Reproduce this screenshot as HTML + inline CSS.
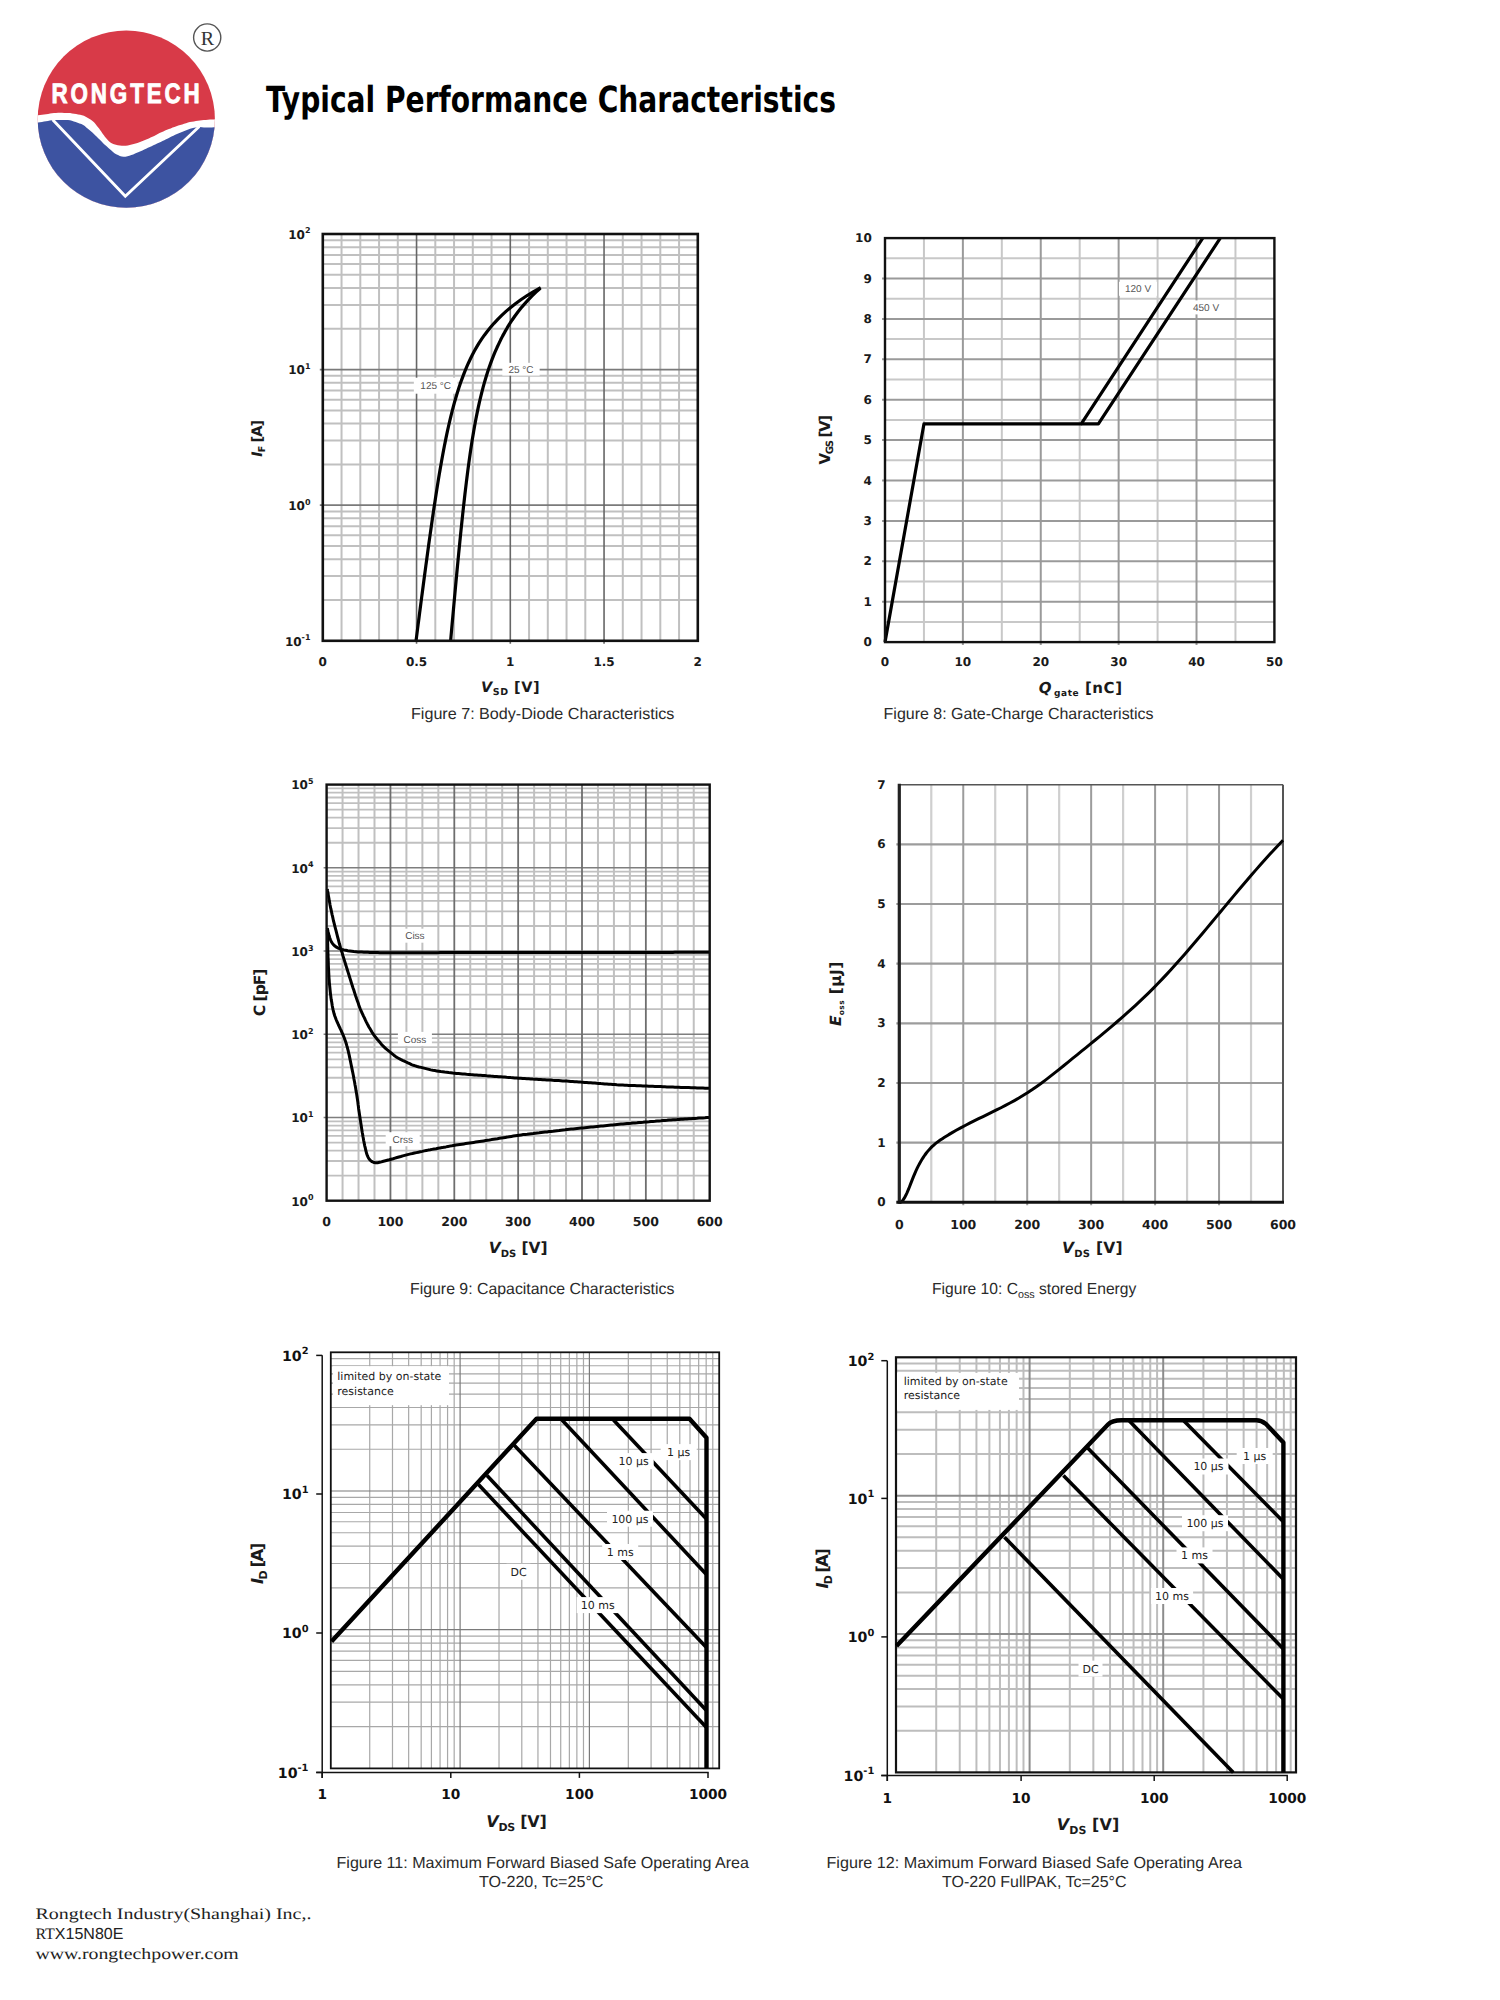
<!DOCTYPE html>
<html><head><meta charset="utf-8"><title>Typical Performance Characteristics</title>
<style>html,body{margin:0;padding:0;background:#fff;}body{width:1500px;height:2000px;position:relative;overflow:hidden;}svg text{text-rendering:geometricPrecision;}</style>
</head><body>
<svg width="1500" height="2000" viewBox="0 0 1500 2000" style="position:absolute;left:0;top:0">
<rect width="1500" height="2000" fill="#fff"/>
<defs><clipPath id="lc"><circle cx="126.3" cy="119.2" r="88.6"/></clipPath></defs>
<g clip-path="url(#lc)">
<rect x="30" y="25" width="200" height="200" fill="#d83a48"/>
<path d="M30.0,115.5 L32.0,115.4 L34.0,115.4 L36.0,115.3 L38.1,115.2 L40.1,115.0 L42.1,114.7 L44.1,114.5 L46.1,114.2 L48.1,113.9 L50.1,113.6 L52.0,113.3 L54.0,113.1 L56.0,112.9 L58.1,112.8 L60.1,112.8 L62.1,112.8 L64.1,112.9 L66.1,112.9 L68.1,113.0 L70.1,113.1 L72.1,113.4 L74.1,113.7 L76.1,114.1 L78.1,114.4 L80.1,114.8 L82.0,115.2 L83.9,115.8 L85.7,116.7 L87.5,117.7 L89.2,118.7 L90.9,119.7 L92.5,120.9 L94.0,122.3 L95.3,123.8 L96.6,125.4 L97.8,126.9 L99.1,128.5 L100.3,130.2 L101.4,131.8 L102.5,133.5 L103.7,135.1 L104.9,136.8 L106.2,138.3 L107.5,139.8 L108.9,141.3 L110.4,142.5 L112.1,143.5 L114.0,144.2 L115.9,144.8 L117.8,145.3 L119.8,145.5 L121.8,145.7 L123.8,145.8 L125.8,145.8 L127.8,145.5 L129.8,145.0 L131.7,144.6 L133.7,144.1 L135.6,143.5 L137.5,142.9 L139.4,142.2 L141.3,141.5 L143.2,140.7 L145.0,140.0 L146.9,139.2 L148.8,138.5 L150.6,137.6 L152.4,136.8 L154.2,135.9 L156.0,135.0 L157.8,134.0 L159.6,133.1 L161.4,132.2 L163.3,131.4 L165.1,130.6 L167.0,129.8 L168.9,129.1 L170.7,128.4 L172.6,127.6 L174.5,126.9 L176.4,126.2 L178.3,125.5 L180.2,124.9 L182.2,124.4 L184.1,123.8 L186.0,123.2 L188.0,122.6 L189.9,122.1 L191.9,121.7 L193.9,121.4 L195.9,121.1 L197.9,120.8 L199.9,120.5 L201.8,120.2 L203.8,120.0 L205.9,119.9 L207.9,119.7 L209.9,119.6 L211.9,119.5 L213.9,119.4 L215.9,119.3 L217.9,119.3 L220.0,119.2 L222.0,119.2 L224.0,119.2 L225.0,119.2 L225,230 L30,230 Z" fill="#fff"/>
<path d="M30.0,123.0 L32.0,122.9 L34.0,122.8 L36.0,122.7 L38.0,122.6 L40.0,122.3 L42.0,122.0 L44.0,121.6 L46.0,121.2 L47.9,120.9 L49.9,120.5 L51.9,120.2 L53.9,120.1 L55.9,120.0 L57.9,120.0 L60.0,120.0 L62.0,120.0 L64.0,120.0 L66.0,120.0 L68.0,120.1 L70.0,120.3 L71.9,120.7 L73.8,121.4 L75.7,122.0 L77.6,122.7 L79.5,123.4 L81.4,124.1 L83.2,125.0 L84.8,126.1 L86.3,127.4 L87.9,128.7 L89.4,130.0 L90.9,131.3 L92.4,132.6 L93.9,134.0 L95.4,135.4 L96.8,136.8 L98.2,138.2 L99.6,139.6 L101.1,141.1 L102.5,142.5 L103.9,143.9 L105.4,145.3 L106.9,146.6 L108.4,147.9 L109.9,149.3 L111.4,150.6 L113.0,151.9 L114.5,153.2 L116.2,154.2 L118.0,155.1 L119.8,155.9 L121.7,156.5 L123.6,156.8 L125.5,156.7 L127.5,156.2 L129.4,155.7 L131.4,155.1 L133.2,154.4 L135.1,153.6 L136.9,152.8 L138.8,152.0 L140.6,151.2 L142.4,150.4 L144.3,149.5 L146.1,148.7 L147.9,147.8 L149.8,147.0 L151.6,146.2 L153.4,145.3 L155.2,144.5 L157.1,143.6 L158.9,142.8 L160.7,141.9 L162.5,141.0 L164.3,140.2 L166.1,139.3 L167.9,138.4 L169.7,137.5 L171.5,136.6 L173.4,135.7 L175.2,134.8 L177.0,133.9 L178.8,133.2 L180.7,132.4 L182.6,131.7 L184.4,130.9 L186.3,130.2 L188.2,129.5 L190.1,128.8 L192.0,128.3 L194.0,127.8 L196.0,127.4 L197.9,127.1 L199.9,127.0 L201.9,127.2 L203.9,127.4 L205.9,127.4 L207.9,127.4 L209.9,127.4 L211.9,127.4 L213.9,127.3 L215.9,127.3 L218.0,127.3 L220.0,127.3 L222.0,127.3 L224.0,127.3 L225.0,127.3 L225,230 L30,230 Z" fill="#3d53a1"/>
<path d="M52.7,119.8 L125.3,196.2 L199.3,126.5" stroke="#fff" stroke-width="2.9" fill="none" stroke-linejoin="miter"/>
</g>
<text transform="translate(51.4,103) scale(0.8,1)" x="0" y="0" font-size="28" font-weight="bold" fill="#fff" stroke="#fff" stroke-width="0.9" font-family="'Liberation Sans', Arial, sans-serif" textLength="185.5" lengthAdjust="spacing">RONGTECH</text>
<circle cx="207.2" cy="37.5" r="13.6" fill="none" stroke="#555" stroke-width="1.4"/>
<text x="207.4" y="44.6" font-size="20" fill="#333" text-anchor="middle" font-family="'Liberation Serif', 'Times New Roman', serif">R</text>
<text x="266" y="112.4" font-size="36" font-weight="bold" fill="#000" font-family="'DejaVu Sans', Verdana, sans-serif" textLength="570" lengthAdjust="spacingAndGlyphs">Typical Performance Characteristics</text>
<line x1="322.80" y1="599.98" x2="697.80" y2="599.98" stroke="#c0c0c0" stroke-width="2"/>
<line x1="322.80" y1="576.10" x2="697.80" y2="576.10" stroke="#c0c0c0" stroke-width="2"/>
<line x1="322.80" y1="559.16" x2="697.80" y2="559.16" stroke="#c0c0c0" stroke-width="2"/>
<line x1="322.80" y1="546.02" x2="697.80" y2="546.02" stroke="#c0c0c0" stroke-width="2"/>
<line x1="322.80" y1="535.28" x2="697.80" y2="535.28" stroke="#c0c0c0" stroke-width="2"/>
<line x1="322.80" y1="526.20" x2="697.80" y2="526.20" stroke="#c0c0c0" stroke-width="2"/>
<line x1="322.80" y1="518.34" x2="697.80" y2="518.34" stroke="#c0c0c0" stroke-width="2"/>
<line x1="322.80" y1="511.40" x2="697.80" y2="511.40" stroke="#c0c0c0" stroke-width="2"/>
<line x1="322.80" y1="464.38" x2="697.80" y2="464.38" stroke="#c0c0c0" stroke-width="2"/>
<line x1="322.80" y1="440.50" x2="697.80" y2="440.50" stroke="#c0c0c0" stroke-width="2"/>
<line x1="322.80" y1="423.56" x2="697.80" y2="423.56" stroke="#c0c0c0" stroke-width="2"/>
<line x1="322.80" y1="410.42" x2="697.80" y2="410.42" stroke="#c0c0c0" stroke-width="2"/>
<line x1="322.80" y1="399.68" x2="697.80" y2="399.68" stroke="#c0c0c0" stroke-width="2"/>
<line x1="322.80" y1="390.60" x2="697.80" y2="390.60" stroke="#c0c0c0" stroke-width="2"/>
<line x1="322.80" y1="382.74" x2="697.80" y2="382.74" stroke="#c0c0c0" stroke-width="2"/>
<line x1="322.80" y1="375.80" x2="697.80" y2="375.80" stroke="#c0c0c0" stroke-width="2"/>
<line x1="322.80" y1="328.78" x2="697.80" y2="328.78" stroke="#c0c0c0" stroke-width="2"/>
<line x1="322.80" y1="304.90" x2="697.80" y2="304.90" stroke="#c0c0c0" stroke-width="2"/>
<line x1="322.80" y1="287.96" x2="697.80" y2="287.96" stroke="#c0c0c0" stroke-width="2"/>
<line x1="322.80" y1="274.82" x2="697.80" y2="274.82" stroke="#c0c0c0" stroke-width="2"/>
<line x1="322.80" y1="264.08" x2="697.80" y2="264.08" stroke="#c0c0c0" stroke-width="2"/>
<line x1="322.80" y1="255.00" x2="697.80" y2="255.00" stroke="#c0c0c0" stroke-width="2"/>
<line x1="322.80" y1="247.14" x2="697.80" y2="247.14" stroke="#c0c0c0" stroke-width="2"/>
<line x1="322.80" y1="240.20" x2="697.80" y2="240.20" stroke="#c0c0c0" stroke-width="2"/>
<line x1="341.55" y1="234.00" x2="341.55" y2="640.80" stroke="#c0c0c0" stroke-width="2"/>
<line x1="360.30" y1="234.00" x2="360.30" y2="640.80" stroke="#c0c0c0" stroke-width="2"/>
<line x1="379.05" y1="234.00" x2="379.05" y2="640.80" stroke="#c0c0c0" stroke-width="2"/>
<line x1="397.80" y1="234.00" x2="397.80" y2="640.80" stroke="#c0c0c0" stroke-width="2"/>
<line x1="435.30" y1="234.00" x2="435.30" y2="640.80" stroke="#c0c0c0" stroke-width="2"/>
<line x1="454.05" y1="234.00" x2="454.05" y2="640.80" stroke="#c0c0c0" stroke-width="2"/>
<line x1="472.80" y1="234.00" x2="472.80" y2="640.80" stroke="#c0c0c0" stroke-width="2"/>
<line x1="491.55" y1="234.00" x2="491.55" y2="640.80" stroke="#c0c0c0" stroke-width="2"/>
<line x1="529.05" y1="234.00" x2="529.05" y2="640.80" stroke="#c0c0c0" stroke-width="2"/>
<line x1="547.80" y1="234.00" x2="547.80" y2="640.80" stroke="#c0c0c0" stroke-width="2"/>
<line x1="566.55" y1="234.00" x2="566.55" y2="640.80" stroke="#c0c0c0" stroke-width="2"/>
<line x1="585.30" y1="234.00" x2="585.30" y2="640.80" stroke="#c0c0c0" stroke-width="2"/>
<line x1="622.80" y1="234.00" x2="622.80" y2="640.80" stroke="#c0c0c0" stroke-width="2"/>
<line x1="641.55" y1="234.00" x2="641.55" y2="640.80" stroke="#c0c0c0" stroke-width="2"/>
<line x1="660.30" y1="234.00" x2="660.30" y2="640.80" stroke="#c0c0c0" stroke-width="2"/>
<line x1="679.05" y1="234.00" x2="679.05" y2="640.80" stroke="#c0c0c0" stroke-width="2"/>
<line x1="319.80" y1="505.20" x2="697.80" y2="505.20" stroke="#7a7a7a" stroke-width="1.8"/>
<line x1="319.80" y1="369.60" x2="697.80" y2="369.60" stroke="#7a7a7a" stroke-width="1.8"/>
<line x1="416.55" y1="234.00" x2="416.55" y2="643.80" stroke="#666" stroke-width="1.6"/>
<line x1="510.30" y1="234.00" x2="510.30" y2="643.80" stroke="#666" stroke-width="1.6"/>
<line x1="604.05" y1="234.00" x2="604.05" y2="643.80" stroke="#666" stroke-width="1.6"/>
<rect x="413.85" y="377.70" width="43.70" height="16.00" fill="#fff"/>
<text x="435.70" y="389.30" font-size="10" fill="#555" font-weight="normal" text-anchor="middle" font-family="'Liberation Sans', Arial, sans-serif">125 °C</text>
<rect x="502.35" y="362.80" width="37.30" height="12.80" fill="#fff"/>
<text x="521.00" y="372.80" font-size="10" fill="#555" font-weight="normal" text-anchor="middle" font-family="'Liberation Sans', Arial, sans-serif">25 °C</text>
<path d="M416.04,640.80 L416.55,636.83 L417.06,632.86 L417.57,628.89 L418.08,624.92 L418.60,620.96 L419.11,616.99 L419.62,613.02 L420.14,609.05 L420.66,605.08 L421.17,601.11 L421.69,597.14 L422.21,593.17 L422.73,589.20 L423.26,585.23 L423.78,581.27 L424.31,577.30 L424.84,573.33 L425.37,569.36 L425.90,565.39 L426.44,561.42 L426.97,557.45 L427.52,553.48 L428.06,549.51 L428.60,545.54 L429.15,541.58 L429.71,537.61 L430.27,533.64 L430.83,529.67 L431.39,525.70 L431.96,521.73 L432.54,517.76 L433.12,513.79 L433.70,509.82 L434.30,505.86 L434.90,501.89 L435.50,497.92 L436.12,493.95 L436.74,489.98 L437.37,486.01 L438.01,482.04 L438.66,478.07 L439.32,474.10 L440.00,470.13 L440.68,466.17 L441.38,462.20 L442.09,458.23 L442.82,454.26 L443.57,450.29 L444.33,446.32 L445.12,442.35 L445.92,438.38 L446.75,434.41 L447.60,430.44 L448.47,426.48 L449.38,422.51 L450.31,418.54 L451.28,414.57 L452.29,410.60 L453.33,406.63 L454.41,402.66 L455.54,398.69 L456.72,394.72 L457.95,390.76 L459.23,386.79 L460.58,382.82 L462.00,378.85 L463.49,374.88 L465.06,370.91 L466.71,366.94 L468.46,362.97 L470.32,359.00 L472.28,355.03 L474.37,351.07 L476.60,347.10 L478.97,343.13 L481.58,339.16 L484.38,335.19 L487.37,331.23 L490.57,327.26 L494.01,323.30 L497.71,319.33 L501.69,315.36 L506.00,311.40 L510.66,307.43 L515.71,303.46 L521.18,299.50 L527.14,295.53 L533.63,291.56 L540.72,287.60" stroke="#000" stroke-width="3.2" fill="none" stroke-linejoin="round"/>
<path d="M450.62,640.80 L450.98,636.84 L451.33,632.88 L451.69,628.92 L452.04,624.96 L452.40,621.00 L452.76,617.04 L453.12,613.08 L453.48,609.12 L453.84,605.16 L454.20,601.20 L454.56,597.24 L454.93,593.28 L455.29,589.32 L455.66,585.36 L456.03,581.40 L456.40,577.44 L456.77,573.48 L457.15,569.52 L457.53,565.56 L457.91,561.60 L458.29,557.64 L458.67,553.68 L459.06,549.72 L459.45,545.76 L459.84,541.80 L460.24,537.84 L460.64,533.88 L461.05,529.92 L461.46,525.97 L461.87,522.01 L462.29,518.05 L462.71,514.09 L463.14,510.13 L463.58,506.17 L464.02,502.21 L464.47,498.25 L464.92,494.29 L465.38,490.33 L465.86,486.37 L466.34,482.41 L466.83,478.45 L467.33,474.49 L467.84,470.53 L468.36,466.57 L468.89,462.61 L469.44,458.65 L470.00,454.69 L470.58,450.73 L471.18,446.77 L471.79,442.81 L472.42,438.85 L473.07,434.89 L473.74,430.93 L474.44,426.97 L475.16,423.01 L475.91,419.05 L476.68,415.09 L477.49,411.13 L478.32,407.17 L479.20,403.21 L480.11,399.25 L481.06,395.29 L482.05,391.33 L483.09,387.37 L484.18,383.41 L485.32,379.45 L486.52,375.49 L487.79,371.53 L489.11,367.57 L490.51,363.61 L491.98,359.65 L493.54,355.69 L495.18,351.73 L496.91,347.77 L498.75,343.81 L500.66,339.84 L502.69,335.87 L504.85,331.90 L507.14,327.93 L509.57,323.96 L512.17,319.98 L514.93,316.01 L517.88,312.04 L521.03,308.07 L524.39,304.10 L527.98,300.13 L531.82,296.15 L535.93,292.18 L540.33,288.21" stroke="#000" stroke-width="3.2" fill="none" stroke-linejoin="round"/>
<rect x="322.80" y="234.00" width="375.00" height="406.80" fill="none" stroke="#111" stroke-width="2.6"/>
<text x="322.80" y="665.67" font-size="12" fill="#1a1a1a" font-weight="bold" text-anchor="middle" font-family="'DejaVu Sans', Verdana, sans-serif">0</text>
<text x="416.55" y="665.67" font-size="12" fill="#1a1a1a" font-weight="bold" text-anchor="middle" font-family="'DejaVu Sans', Verdana, sans-serif">0.5</text>
<text x="510.30" y="665.67" font-size="12" fill="#1a1a1a" font-weight="bold" text-anchor="middle" font-family="'DejaVu Sans', Verdana, sans-serif">1</text>
<text x="604.05" y="665.67" font-size="12" fill="#1a1a1a" font-weight="bold" text-anchor="middle" font-family="'DejaVu Sans', Verdana, sans-serif">1.5</text>
<text x="697.80" y="665.67" font-size="12" fill="#1a1a1a" font-weight="bold" text-anchor="middle" font-family="'DejaVu Sans', Verdana, sans-serif">2</text>
<text x="310.50" y="238.87" font-size="12" font-weight="bold" fill="#1a1a1a" text-anchor="end" font-family="'DejaVu Sans', Verdana, sans-serif">10<tspan dy="-5.40" font-size="8">2</tspan></text>
<text x="310.50" y="374.47" font-size="12" font-weight="bold" fill="#1a1a1a" text-anchor="end" font-family="'DejaVu Sans', Verdana, sans-serif">10<tspan dy="-5.40" font-size="8">1</tspan></text>
<text x="310.50" y="510.07" font-size="12" font-weight="bold" fill="#1a1a1a" text-anchor="end" font-family="'DejaVu Sans', Verdana, sans-serif">10<tspan dy="-5.40" font-size="8">0</tspan></text>
<text x="310.50" y="645.67" font-size="12" font-weight="bold" fill="#1a1a1a" text-anchor="end" font-family="'DejaVu Sans', Verdana, sans-serif">10<tspan dy="-5.40" font-size="8">-1</tspan></text>
<text x="481.10" y="691.50" font-size="14.5" font-weight="bold" fill="#1a1a1a" font-family="'DejaVu Sans', Verdana, sans-serif" textLength="58.5" lengthAdjust="spacing"><tspan font-style="italic">V</tspan><tspan dy="3.5" font-size="9.5">SD</tspan><tspan dy="-3.5"> [V]</tspan></text>
<text transform="translate(261.50,456.80) rotate(-90)" x="0" y="0" font-size="14.5" font-weight="bold" fill="#1a1a1a" font-family="'DejaVu Sans', Verdana, sans-serif" textLength="36.9" lengthAdjust="spacing"><tspan font-style="italic">I</tspan><tspan dy="3.5" font-size="9.5">F</tspan><tspan dy="-3.5"> [A]</tspan></text>
<line x1="885.00" y1="621.90" x2="1274.40" y2="621.90" stroke="#c8c8c8" stroke-width="2"/>
<line x1="885.00" y1="581.50" x2="1274.40" y2="581.50" stroke="#c8c8c8" stroke-width="2"/>
<line x1="885.00" y1="541.10" x2="1274.40" y2="541.10" stroke="#c8c8c8" stroke-width="2"/>
<line x1="885.00" y1="500.70" x2="1274.40" y2="500.70" stroke="#c8c8c8" stroke-width="2"/>
<line x1="885.00" y1="460.30" x2="1274.40" y2="460.30" stroke="#c8c8c8" stroke-width="2"/>
<line x1="885.00" y1="419.90" x2="1274.40" y2="419.90" stroke="#c8c8c8" stroke-width="2"/>
<line x1="885.00" y1="379.50" x2="1274.40" y2="379.50" stroke="#c8c8c8" stroke-width="2"/>
<line x1="885.00" y1="339.10" x2="1274.40" y2="339.10" stroke="#c8c8c8" stroke-width="2"/>
<line x1="885.00" y1="298.70" x2="1274.40" y2="298.70" stroke="#c8c8c8" stroke-width="2"/>
<line x1="885.00" y1="258.30" x2="1274.40" y2="258.30" stroke="#c8c8c8" stroke-width="2"/>
<line x1="923.94" y1="238.10" x2="923.94" y2="642.10" stroke="#c8c8c8" stroke-width="2"/>
<line x1="1001.82" y1="238.10" x2="1001.82" y2="642.10" stroke="#c8c8c8" stroke-width="2"/>
<line x1="1079.70" y1="238.10" x2="1079.70" y2="642.10" stroke="#c8c8c8" stroke-width="2"/>
<line x1="1157.58" y1="238.10" x2="1157.58" y2="642.10" stroke="#c8c8c8" stroke-width="2"/>
<line x1="1235.46" y1="238.10" x2="1235.46" y2="642.10" stroke="#c8c8c8" stroke-width="2"/>
<line x1="882.00" y1="601.70" x2="1274.40" y2="601.70" stroke="#9a9a9a" stroke-width="2"/>
<line x1="882.00" y1="561.30" x2="1274.40" y2="561.30" stroke="#9a9a9a" stroke-width="2"/>
<line x1="882.00" y1="520.90" x2="1274.40" y2="520.90" stroke="#9a9a9a" stroke-width="2"/>
<line x1="882.00" y1="480.50" x2="1274.40" y2="480.50" stroke="#9a9a9a" stroke-width="2"/>
<line x1="882.00" y1="440.10" x2="1274.40" y2="440.10" stroke="#9a9a9a" stroke-width="2"/>
<line x1="882.00" y1="399.70" x2="1274.40" y2="399.70" stroke="#9a9a9a" stroke-width="2"/>
<line x1="882.00" y1="359.30" x2="1274.40" y2="359.30" stroke="#9a9a9a" stroke-width="2"/>
<line x1="882.00" y1="318.90" x2="1274.40" y2="318.90" stroke="#9a9a9a" stroke-width="2"/>
<line x1="882.00" y1="278.50" x2="1274.40" y2="278.50" stroke="#9a9a9a" stroke-width="2"/>
<line x1="962.88" y1="238.10" x2="962.88" y2="645.10" stroke="#9a9a9a" stroke-width="2"/>
<line x1="1040.76" y1="238.10" x2="1040.76" y2="645.10" stroke="#9a9a9a" stroke-width="2"/>
<line x1="1118.64" y1="238.10" x2="1118.64" y2="645.10" stroke="#9a9a9a" stroke-width="2"/>
<line x1="1196.52" y1="238.10" x2="1196.52" y2="645.10" stroke="#9a9a9a" stroke-width="2"/>
<rect x="1119.00" y="281.80" width="38.00" height="14.00" fill="#fff"/>
<text x="1138.00" y="292.40" font-size="10" fill="#555" font-weight="normal" text-anchor="middle" font-family="'Liberation Sans', Arial, sans-serif">120 V</text>
<rect x="1186.00" y="300.40" width="40.00" height="14.00" fill="#fff"/>
<text x="1206.00" y="311.00" font-size="10" fill="#555" font-weight="normal" text-anchor="middle" font-family="'Liberation Sans', Arial, sans-serif">450 V</text>
<path d="M885.00,642.10 L923.94,423.94 L1081.26,423.94 L1202.75,238.10" stroke="#000" stroke-width="3.2" fill="none" stroke-linejoin="round"/>
<path d="M1081.26,423.94 L1098.39,423.94 L1220.27,238.10" stroke="#000" stroke-width="3.2" fill="none" stroke-linejoin="round"/>
<rect x="885.00" y="238.10" width="389.40" height="404.00" fill="none" stroke="#111" stroke-width="2.4"/>
<text x="885.00" y="666.27" font-size="12" fill="#1a1a1a" font-weight="bold" text-anchor="middle" font-family="'DejaVu Sans', Verdana, sans-serif">0</text>
<text x="962.88" y="666.27" font-size="12" fill="#1a1a1a" font-weight="bold" text-anchor="middle" font-family="'DejaVu Sans', Verdana, sans-serif">10</text>
<text x="1040.76" y="666.27" font-size="12" fill="#1a1a1a" font-weight="bold" text-anchor="middle" font-family="'DejaVu Sans', Verdana, sans-serif">20</text>
<text x="1118.64" y="666.27" font-size="12" fill="#1a1a1a" font-weight="bold" text-anchor="middle" font-family="'DejaVu Sans', Verdana, sans-serif">30</text>
<text x="1196.52" y="666.27" font-size="12" fill="#1a1a1a" font-weight="bold" text-anchor="middle" font-family="'DejaVu Sans', Verdana, sans-serif">40</text>
<text x="1274.40" y="666.27" font-size="12" fill="#1a1a1a" font-weight="bold" text-anchor="middle" font-family="'DejaVu Sans', Verdana, sans-serif">50</text>
<text x="871.80" y="646.17" font-size="12" fill="#1a1a1a" font-weight="bold" text-anchor="end" font-family="'DejaVu Sans', Verdana, sans-serif">0</text>
<text x="871.80" y="605.77" font-size="12" fill="#1a1a1a" font-weight="bold" text-anchor="end" font-family="'DejaVu Sans', Verdana, sans-serif">1</text>
<text x="871.80" y="565.37" font-size="12" fill="#1a1a1a" font-weight="bold" text-anchor="end" font-family="'DejaVu Sans', Verdana, sans-serif">2</text>
<text x="871.80" y="524.97" font-size="12" fill="#1a1a1a" font-weight="bold" text-anchor="end" font-family="'DejaVu Sans', Verdana, sans-serif">3</text>
<text x="871.80" y="484.57" font-size="12" fill="#1a1a1a" font-weight="bold" text-anchor="end" font-family="'DejaVu Sans', Verdana, sans-serif">4</text>
<text x="871.80" y="444.17" font-size="12" fill="#1a1a1a" font-weight="bold" text-anchor="end" font-family="'DejaVu Sans', Verdana, sans-serif">5</text>
<text x="871.80" y="403.77" font-size="12" fill="#1a1a1a" font-weight="bold" text-anchor="end" font-family="'DejaVu Sans', Verdana, sans-serif">6</text>
<text x="871.80" y="363.37" font-size="12" fill="#1a1a1a" font-weight="bold" text-anchor="end" font-family="'DejaVu Sans', Verdana, sans-serif">7</text>
<text x="871.80" y="322.97" font-size="12" fill="#1a1a1a" font-weight="bold" text-anchor="end" font-family="'DejaVu Sans', Verdana, sans-serif">8</text>
<text x="871.80" y="282.57" font-size="12" fill="#1a1a1a" font-weight="bold" text-anchor="end" font-family="'DejaVu Sans', Verdana, sans-serif">9</text>
<text x="871.80" y="242.17" font-size="12" fill="#1a1a1a" font-weight="bold" text-anchor="end" font-family="'DejaVu Sans', Verdana, sans-serif">10</text>
<text x="1038.7" y="693.3" font-size="15" font-weight="bold" fill="#1a1a1a" font-family="'DejaVu Sans', Verdana, sans-serif" textLength="83.3" lengthAdjust="spacing"><tspan font-style="italic">Q</tspan><tspan dx="2" dy="3" font-size="9">gate</tspan><tspan dy="-3"> [nC]</tspan></text>
<text transform="translate(829.50,464.40) rotate(-90)" x="0" y="0" font-size="15" font-weight="bold" fill="#1a1a1a" font-family="'DejaVu Sans', Verdana, sans-serif" textLength="49.6" lengthAdjust="spacing"><tspan>V</tspan><tspan dy="3.5" font-size="10">GS</tspan><tspan dy="-3.5"> [V]</tspan></text>
<line x1="326.60" y1="1175.65" x2="709.70" y2="1175.65" stroke="#c0c0c0" stroke-width="1.8"/>
<line x1="326.60" y1="1160.99" x2="709.70" y2="1160.99" stroke="#c0c0c0" stroke-width="1.8"/>
<line x1="326.60" y1="1150.60" x2="709.70" y2="1150.60" stroke="#c0c0c0" stroke-width="1.8"/>
<line x1="326.60" y1="1142.53" x2="709.70" y2="1142.53" stroke="#c0c0c0" stroke-width="1.8"/>
<line x1="326.60" y1="1135.94" x2="709.70" y2="1135.94" stroke="#c0c0c0" stroke-width="1.8"/>
<line x1="326.60" y1="1130.37" x2="709.70" y2="1130.37" stroke="#c0c0c0" stroke-width="1.8"/>
<line x1="326.60" y1="1125.54" x2="709.70" y2="1125.54" stroke="#c0c0c0" stroke-width="1.8"/>
<line x1="326.60" y1="1121.29" x2="709.70" y2="1121.29" stroke="#c0c0c0" stroke-width="1.8"/>
<line x1="326.60" y1="1092.43" x2="709.70" y2="1092.43" stroke="#c0c0c0" stroke-width="1.8"/>
<line x1="326.60" y1="1077.77" x2="709.70" y2="1077.77" stroke="#c0c0c0" stroke-width="1.8"/>
<line x1="326.60" y1="1067.38" x2="709.70" y2="1067.38" stroke="#c0c0c0" stroke-width="1.8"/>
<line x1="326.60" y1="1059.31" x2="709.70" y2="1059.31" stroke="#c0c0c0" stroke-width="1.8"/>
<line x1="326.60" y1="1052.72" x2="709.70" y2="1052.72" stroke="#c0c0c0" stroke-width="1.8"/>
<line x1="326.60" y1="1047.15" x2="709.70" y2="1047.15" stroke="#c0c0c0" stroke-width="1.8"/>
<line x1="326.60" y1="1042.32" x2="709.70" y2="1042.32" stroke="#c0c0c0" stroke-width="1.8"/>
<line x1="326.60" y1="1038.07" x2="709.70" y2="1038.07" stroke="#c0c0c0" stroke-width="1.8"/>
<line x1="326.60" y1="1009.21" x2="709.70" y2="1009.21" stroke="#c0c0c0" stroke-width="1.8"/>
<line x1="326.60" y1="994.55" x2="709.70" y2="994.55" stroke="#c0c0c0" stroke-width="1.8"/>
<line x1="326.60" y1="984.16" x2="709.70" y2="984.16" stroke="#c0c0c0" stroke-width="1.8"/>
<line x1="326.60" y1="976.09" x2="709.70" y2="976.09" stroke="#c0c0c0" stroke-width="1.8"/>
<line x1="326.60" y1="969.50" x2="709.70" y2="969.50" stroke="#c0c0c0" stroke-width="1.8"/>
<line x1="326.60" y1="963.93" x2="709.70" y2="963.93" stroke="#c0c0c0" stroke-width="1.8"/>
<line x1="326.60" y1="959.10" x2="709.70" y2="959.10" stroke="#c0c0c0" stroke-width="1.8"/>
<line x1="326.60" y1="954.85" x2="709.70" y2="954.85" stroke="#c0c0c0" stroke-width="1.8"/>
<line x1="326.60" y1="925.99" x2="709.70" y2="925.99" stroke="#c0c0c0" stroke-width="1.8"/>
<line x1="326.60" y1="911.33" x2="709.70" y2="911.33" stroke="#c0c0c0" stroke-width="1.8"/>
<line x1="326.60" y1="900.94" x2="709.70" y2="900.94" stroke="#c0c0c0" stroke-width="1.8"/>
<line x1="326.60" y1="892.87" x2="709.70" y2="892.87" stroke="#c0c0c0" stroke-width="1.8"/>
<line x1="326.60" y1="886.28" x2="709.70" y2="886.28" stroke="#c0c0c0" stroke-width="1.8"/>
<line x1="326.60" y1="880.71" x2="709.70" y2="880.71" stroke="#c0c0c0" stroke-width="1.8"/>
<line x1="326.60" y1="875.88" x2="709.70" y2="875.88" stroke="#c0c0c0" stroke-width="1.8"/>
<line x1="326.60" y1="871.63" x2="709.70" y2="871.63" stroke="#c0c0c0" stroke-width="1.8"/>
<line x1="326.60" y1="842.77" x2="709.70" y2="842.77" stroke="#c0c0c0" stroke-width="1.8"/>
<line x1="326.60" y1="828.11" x2="709.70" y2="828.11" stroke="#c0c0c0" stroke-width="1.8"/>
<line x1="326.60" y1="817.72" x2="709.70" y2="817.72" stroke="#c0c0c0" stroke-width="1.8"/>
<line x1="326.60" y1="809.65" x2="709.70" y2="809.65" stroke="#c0c0c0" stroke-width="1.8"/>
<line x1="326.60" y1="803.06" x2="709.70" y2="803.06" stroke="#c0c0c0" stroke-width="1.8"/>
<line x1="326.60" y1="797.49" x2="709.70" y2="797.49" stroke="#c0c0c0" stroke-width="1.8"/>
<line x1="326.60" y1="792.66" x2="709.70" y2="792.66" stroke="#c0c0c0" stroke-width="1.8"/>
<line x1="326.60" y1="788.41" x2="709.70" y2="788.41" stroke="#c0c0c0" stroke-width="1.8"/>
<line x1="342.56" y1="784.60" x2="342.56" y2="1200.70" stroke="#c0c0c0" stroke-width="2"/>
<line x1="358.53" y1="784.60" x2="358.53" y2="1200.70" stroke="#c0c0c0" stroke-width="2"/>
<line x1="374.49" y1="784.60" x2="374.49" y2="1200.70" stroke="#c0c0c0" stroke-width="2"/>
<line x1="406.41" y1="784.60" x2="406.41" y2="1200.70" stroke="#c0c0c0" stroke-width="2"/>
<line x1="422.38" y1="784.60" x2="422.38" y2="1200.70" stroke="#c0c0c0" stroke-width="2"/>
<line x1="438.34" y1="784.60" x2="438.34" y2="1200.70" stroke="#c0c0c0" stroke-width="2"/>
<line x1="470.26" y1="784.60" x2="470.26" y2="1200.70" stroke="#c0c0c0" stroke-width="2"/>
<line x1="486.23" y1="784.60" x2="486.23" y2="1200.70" stroke="#c0c0c0" stroke-width="2"/>
<line x1="502.19" y1="784.60" x2="502.19" y2="1200.70" stroke="#c0c0c0" stroke-width="2"/>
<line x1="534.11" y1="784.60" x2="534.11" y2="1200.70" stroke="#c0c0c0" stroke-width="2"/>
<line x1="550.08" y1="784.60" x2="550.08" y2="1200.70" stroke="#c0c0c0" stroke-width="2"/>
<line x1="566.04" y1="784.60" x2="566.04" y2="1200.70" stroke="#c0c0c0" stroke-width="2"/>
<line x1="597.96" y1="784.60" x2="597.96" y2="1200.70" stroke="#c0c0c0" stroke-width="2"/>
<line x1="613.93" y1="784.60" x2="613.93" y2="1200.70" stroke="#c0c0c0" stroke-width="2"/>
<line x1="629.89" y1="784.60" x2="629.89" y2="1200.70" stroke="#c0c0c0" stroke-width="2"/>
<line x1="661.81" y1="784.60" x2="661.81" y2="1200.70" stroke="#c0c0c0" stroke-width="2"/>
<line x1="677.78" y1="784.60" x2="677.78" y2="1200.70" stroke="#c0c0c0" stroke-width="2"/>
<line x1="693.74" y1="784.60" x2="693.74" y2="1200.70" stroke="#c0c0c0" stroke-width="2"/>
<line x1="323.60" y1="1117.48" x2="709.70" y2="1117.48" stroke="#7e7e7e" stroke-width="1.6"/>
<line x1="323.60" y1="1034.26" x2="709.70" y2="1034.26" stroke="#7e7e7e" stroke-width="1.6"/>
<line x1="323.60" y1="951.04" x2="709.70" y2="951.04" stroke="#7e7e7e" stroke-width="1.6"/>
<line x1="323.60" y1="867.82" x2="709.70" y2="867.82" stroke="#7e7e7e" stroke-width="1.6"/>
<line x1="390.45" y1="784.60" x2="390.45" y2="1200.70" stroke="#6e6e6e" stroke-width="1.8"/>
<line x1="454.30" y1="784.60" x2="454.30" y2="1200.70" stroke="#6e6e6e" stroke-width="1.8"/>
<line x1="518.15" y1="784.60" x2="518.15" y2="1200.70" stroke="#6e6e6e" stroke-width="1.8"/>
<line x1="582.00" y1="784.60" x2="582.00" y2="1200.70" stroke="#6e6e6e" stroke-width="1.8"/>
<line x1="645.85" y1="784.60" x2="645.85" y2="1200.70" stroke="#6e6e6e" stroke-width="1.8"/>
<rect x="399.90" y="928.70" width="30.00" height="14.00" fill="#fff"/>
<text x="414.90" y="939.30" font-size="10" fill="#555" font-weight="normal" text-anchor="middle" font-family="'Liberation Sans', Arial, sans-serif">Ciss</text>
<rect x="397.90" y="1031.90" width="34.00" height="14.00" fill="#fff"/>
<text x="414.90" y="1042.50" font-size="10" fill="#555" font-weight="normal" text-anchor="middle" font-family="'Liberation Sans', Arial, sans-serif">Coss</text>
<rect x="385.70" y="1132.20" width="34.00" height="14.00" fill="#fff"/>
<text x="402.70" y="1142.80" font-size="10" fill="#555" font-weight="normal" text-anchor="middle" font-family="'Liberation Sans', Arial, sans-serif">Crss</text>
<path d="M327.3,889.0 L327.6,891.0 L328.0,893.0 L328.3,894.9 L328.6,896.9 L329.0,898.9 L329.3,900.9 L329.7,902.8 L330.0,904.8 L330.4,906.8 L330.8,908.7 L331.3,910.7 L331.7,912.7 L332.1,914.6 L332.6,916.6 L333.0,918.5 L333.4,920.5 L333.9,922.4 L334.4,924.4 L334.9,926.3 L335.4,928.3 L335.9,930.2 L336.4,932.2 L336.9,934.1 L337.4,936.1 L337.9,938.0 L338.4,939.9 L338.9,941.9 L339.4,943.8 L340.0,945.8 L340.5,947.7 L341.1,949.6 L341.7,951.5 L342.3,953.4 L342.8,955.4 L343.4,957.3 L344.0,959.2 L344.6,961.1 L345.2,963.0 L345.8,965.0 L346.4,966.9 L347.0,968.8 L347.6,970.7 L348.2,972.6 L348.8,974.5 L349.4,976.5 L350.0,978.4 L350.6,980.3 L351.2,982.2 L351.8,984.1 L352.4,986.0 L353.0,987.9 L353.7,989.8 L354.3,991.7 L354.9,993.6 L355.5,995.5 L356.2,997.4 L356.8,999.3 L357.5,1001.2 L358.2,1003.1 L358.8,1005.0 L359.5,1006.9 L360.2,1008.8 L361.0,1010.6 L361.8,1012.5 L362.7,1014.3 L363.5,1016.1 L364.4,1017.9 L365.2,1019.7 L366.1,1021.6 L367.0,1023.3 L367.9,1025.1 L368.9,1026.9 L369.9,1028.6 L370.9,1030.3 L371.9,1032.1 L373.0,1033.7 L374.1,1035.4 L375.4,1037.0 L376.6,1038.5 L377.9,1040.1 L379.2,1041.6 L380.5,1043.1 L381.8,1044.7 L383.2,1046.1 L384.6,1047.5 L386.1,1048.8 L387.7,1050.1 L389.2,1051.4 L390.8,1052.6 L392.3,1053.9 L393.9,1055.2 L395.5,1056.4 L397.1,1057.5 L398.9,1058.5 L400.6,1059.4 L402.5,1060.3 L404.3,1061.1 L406.1,1062.0 L407.9,1062.9 L409.7,1063.7 L411.5,1064.6 L413.4,1065.3 L415.3,1065.9 L417.2,1066.5 L419.1,1067.0 L421.1,1067.4 L423.0,1067.9 L425.0,1068.4 L426.9,1068.9 L428.9,1069.4 L430.8,1069.9 L432.8,1070.3 L434.8,1070.6 L436.7,1070.9 L438.7,1071.2 L440.7,1071.5 L442.7,1071.7 L444.7,1072.0 L446.7,1072.2 L448.7,1072.5 L450.7,1072.7 L452.7,1073.0 L454.6,1073.2 L456.6,1073.4 L458.6,1073.6 L460.6,1073.8 L462.6,1074.0 L464.6,1074.1 L466.6,1074.3 L468.6,1074.4 L470.6,1074.6 L472.6,1074.7 L474.6,1074.9 L476.6,1075.0 L478.6,1075.2 L480.6,1075.3 L482.6,1075.5 L484.6,1075.6 L486.6,1075.8 L488.6,1075.9 L490.6,1076.1 L492.6,1076.2 L494.7,1076.4 L496.7,1076.5 L498.7,1076.7 L500.7,1076.8 L502.7,1077.0 L504.7,1077.1 L506.7,1077.3 L508.7,1077.4 L510.7,1077.6 L512.7,1077.7 L514.7,1077.9 L516.7,1078.0 L518.7,1078.2 L520.7,1078.3 L522.7,1078.5 L524.7,1078.6 L526.7,1078.7 L528.7,1078.8 L530.7,1078.9 L532.7,1079.1 L534.7,1079.2 L536.7,1079.3 L538.7,1079.4 L540.7,1079.5 L542.7,1079.7 L544.7,1079.8 L546.7,1079.9 L548.7,1080.0 L550.7,1080.1 L552.7,1080.3 L554.7,1080.4 L556.7,1080.5 L558.7,1080.6 L560.7,1080.7 L562.7,1080.9 L564.7,1081.0 L566.7,1081.1 L568.7,1081.2 L570.7,1081.4 L572.7,1081.5 L574.7,1081.7 L576.7,1081.8 L578.7,1081.9 L580.7,1082.1 L582.7,1082.2 L584.7,1082.4 L586.7,1082.5 L588.7,1082.7 L590.8,1082.8 L592.8,1083.0 L594.8,1083.1 L596.8,1083.3 L598.8,1083.4 L600.8,1083.6 L602.8,1083.7 L604.8,1083.9 L606.8,1084.0 L608.8,1084.2 L610.8,1084.3 L612.8,1084.5 L614.8,1084.6 L616.8,1084.8 L618.8,1084.9 L620.8,1085.0 L622.8,1085.1 L624.8,1085.2 L626.8,1085.3 L628.8,1085.4 L630.8,1085.4 L632.8,1085.5 L634.8,1085.6 L636.8,1085.7 L638.8,1085.8 L640.8,1085.8 L642.8,1085.9 L644.8,1086.0 L646.8,1086.1 L648.8,1086.2 L650.8,1086.2 L652.8,1086.3 L654.9,1086.4 L656.9,1086.5 L658.9,1086.6 L660.9,1086.6 L662.9,1086.7 L664.9,1086.8 L666.9,1086.9 L668.9,1087.0 L670.9,1087.0 L672.9,1087.1 L674.9,1087.2 L676.9,1087.2 L678.9,1087.3 L680.9,1087.4 L682.9,1087.4 L684.9,1087.5 L686.9,1087.6 L688.9,1087.6 L691.0,1087.7 L693.0,1087.8 L695.0,1087.8 L697.0,1087.9 L699.0,1088.0 L701.0,1088.0 L703.0,1088.1 L705.0,1088.2 L707.0,1088.2 L709.0,1088.3" stroke="#000" stroke-width="3.0" fill="none" stroke-linejoin="round"/>
<path d="M327.3,928.0 L327.7,930.0 L328.1,931.9 L328.6,933.9 L329.1,935.8 L329.7,937.7 L330.4,939.6 L331.2,941.4 L332.2,943.1 L333.4,944.7 L334.9,946.0 L336.5,947.2 L338.2,948.1 L340.1,948.8 L342.0,949.4 L343.9,949.9 L345.9,950.3 L347.8,950.7 L349.8,951.0 L351.8,951.3 L353.8,951.6 L355.8,951.8 L357.8,952.0 L359.8,952.1 L361.8,952.1 L363.8,952.2 L365.8,952.3 L367.8,952.3 L369.8,952.4 L371.8,952.5 L373.8,952.5 L375.8,952.6 L377.8,952.6 L379.9,952.7 L381.9,952.7 L383.9,952.7 L385.9,952.7 L387.9,952.7 L389.9,952.7 L391.9,952.7 L393.9,952.7 L395.9,952.7 L397.9,952.7 L399.9,952.7 L401.9,952.7 L403.9,952.7 L405.9,952.7 L408.0,952.7 L410.0,952.7 L412.0,952.7 L414.0,952.7 L416.0,952.7 L418.0,952.7 L420.0,952.7 L422.0,952.7 L424.0,952.7 L426.0,952.7 L428.0,952.7 L430.0,952.7 L432.0,952.7 L434.0,952.7 L436.0,952.7 L438.1,952.7 L440.1,952.6 L442.1,952.6 L444.1,952.6 L446.1,952.6 L448.1,952.6 L450.1,952.6 L452.1,952.6 L454.1,952.6 L456.1,952.6 L458.1,952.6 L460.1,952.6 L462.1,952.6 L464.1,952.6 L466.2,952.6 L468.2,952.6 L470.2,952.6 L472.2,952.6 L474.2,952.6 L476.2,952.6 L478.2,952.6 L480.2,952.6 L482.2,952.6 L484.2,952.6 L486.2,952.6 L488.2,952.6 L490.2,952.6 L492.2,952.6 L494.3,952.6 L496.3,952.6 L498.3,952.6 L500.3,952.6 L502.3,952.6 L504.3,952.6 L506.3,952.6 L508.3,952.6 L510.3,952.6 L512.3,952.6 L514.3,952.6 L516.3,952.6 L518.3,952.6 L520.3,952.6 L522.3,952.6 L524.4,952.6 L526.4,952.6 L528.4,952.6 L530.4,952.6 L532.4,952.6 L534.4,952.6 L536.4,952.5 L538.4,952.5 L540.4,952.5 L542.4,952.5 L544.4,952.5 L546.4,952.5 L548.4,952.5 L550.4,952.5 L552.5,952.5 L554.5,952.5 L556.5,952.5 L558.5,952.5 L560.5,952.5 L562.5,952.5 L564.5,952.5 L566.5,952.5 L568.5,952.5 L570.5,952.5 L572.5,952.5 L574.5,952.5 L576.5,952.5 L578.5,952.5 L580.6,952.5 L582.6,952.5 L584.6,952.5 L586.6,952.5 L588.6,952.5 L590.6,952.5 L592.6,952.5 L594.6,952.5 L596.6,952.5 L598.6,952.5 L600.6,952.5 L602.6,952.5 L604.6,952.4 L606.6,952.4 L608.7,952.4 L610.7,952.4 L612.7,952.4 L614.7,952.4 L616.7,952.4 L618.7,952.4 L620.7,952.4 L622.7,952.4 L624.7,952.4 L626.7,952.4 L628.7,952.4 L630.7,952.4 L632.7,952.4 L634.7,952.4 L636.7,952.4 L638.8,952.4 L640.8,952.4 L642.8,952.4 L644.8,952.4 L646.8,952.4 L648.8,952.4 L650.8,952.4 L652.8,952.4 L654.8,952.4 L656.8,952.4 L658.8,952.4 L660.8,952.4 L662.8,952.4 L664.8,952.4 L666.9,952.4 L668.9,952.4 L670.9,952.4 L672.9,952.4 L674.9,952.3 L676.9,952.3 L678.9,952.3 L680.9,952.3 L682.9,952.3 L684.9,952.3 L686.9,952.3 L688.9,952.3 L690.9,952.3 L692.9,952.3 L695.0,952.3 L697.0,952.3 L699.0,952.3 L701.0,952.3 L703.0,952.3 L705.0,952.3 L707.0,952.3 L709.0,952.3" stroke="#000" stroke-width="3.0" fill="none" stroke-linejoin="round"/>
<path d="M327.3,930.0 L327.4,932.0 L327.4,934.0 L327.5,936.0 L327.5,938.0 L327.6,940.0 L327.6,942.0 L327.7,944.0 L327.7,946.0 L327.8,948.1 L327.8,950.1 L327.9,952.1 L328.0,954.1 L328.0,956.1 L328.1,958.1 L328.2,960.1 L328.3,962.1 L328.3,964.1 L328.4,966.1 L328.5,968.1 L328.6,970.1 L328.7,972.1 L328.8,974.1 L328.9,976.1 L329.0,978.1 L329.2,980.1 L329.3,982.1 L329.5,984.1 L329.7,986.1 L329.9,988.1 L330.1,990.1 L330.3,992.1 L330.5,994.1 L330.8,996.1 L331.0,998.1 L331.3,1000.1 L331.7,1002.0 L332.0,1004.0 L332.3,1006.0 L332.7,1008.0 L333.1,1009.9 L333.6,1011.9 L334.1,1013.8 L334.7,1015.7 L335.4,1017.6 L336.1,1019.5 L336.9,1021.3 L337.7,1023.1 L338.5,1025.0 L339.4,1026.8 L340.2,1028.6 L341.1,1030.4 L341.9,1032.3 L342.7,1034.1 L343.5,1036.0 L344.2,1037.8 L344.9,1039.7 L345.6,1041.6 L346.2,1043.5 L346.7,1045.4 L347.3,1047.3 L347.8,1049.3 L348.3,1051.2 L348.7,1053.2 L349.2,1055.1 L349.6,1057.1 L350.0,1059.1 L350.4,1061.0 L350.8,1063.0 L351.2,1065.0 L351.6,1066.9 L352.0,1068.9 L352.4,1070.9 L352.8,1072.8 L353.2,1074.8 L353.6,1076.8 L353.9,1078.7 L354.3,1080.7 L354.7,1082.7 L355.0,1084.7 L355.4,1086.6 L355.7,1088.6 L356.0,1090.6 L356.4,1092.6 L356.7,1094.6 L357.0,1096.5 L357.3,1098.5 L357.6,1100.5 L357.9,1102.5 L358.1,1104.5 L358.4,1106.5 L358.6,1108.5 L358.9,1110.4 L359.2,1112.4 L359.5,1114.4 L359.8,1116.4 L360.1,1118.4 L360.4,1120.4 L360.7,1122.4 L361.0,1124.3 L361.3,1126.3 L361.6,1128.3 L361.9,1130.3 L362.2,1132.3 L362.6,1134.2 L362.9,1136.2 L363.3,1138.2 L363.6,1140.2 L364.0,1142.1 L364.4,1144.1 L364.8,1146.1 L365.3,1148.0 L365.7,1150.0 L366.2,1151.9 L366.7,1153.8 L367.4,1155.7 L368.2,1157.5 L369.3,1159.2 L370.6,1160.6 L372.1,1161.7 L373.8,1162.5 L375.7,1162.8 L377.6,1162.7 L379.6,1162.3 L381.5,1161.9 L383.4,1161.3 L385.4,1160.8 L387.3,1160.3 L389.3,1159.8 L391.2,1159.2 L393.1,1158.7 L395.0,1158.1 L397.0,1157.5 L398.9,1157.0 L400.8,1156.5 L402.8,1155.9 L404.7,1155.4 L406.6,1154.9 L408.6,1154.4 L410.5,1153.9 L412.5,1153.5 L414.4,1153.0 L416.4,1152.6 L418.4,1152.2 L420.3,1151.8 L422.3,1151.4 L424.3,1150.9 L426.2,1150.5 L428.2,1150.1 L430.2,1149.8 L432.1,1149.4 L434.1,1149.0 L436.1,1148.7 L438.1,1148.3 L440.0,1147.9 L442.0,1147.6 L444.0,1147.2 L445.9,1146.9 L447.9,1146.5 L449.9,1146.1 L451.9,1145.8 L453.8,1145.4 L455.8,1145.1 L457.8,1144.8 L459.8,1144.5 L461.8,1144.2 L463.8,1143.9 L465.7,1143.6 L467.7,1143.3 L469.7,1143.0 L471.7,1142.7 L473.7,1142.4 L475.7,1142.1 L477.7,1141.8 L479.6,1141.5 L481.6,1141.2 L483.6,1140.9 L485.6,1140.6 L487.6,1140.3 L489.5,1140.0 L491.5,1139.6 L493.5,1139.3 L495.5,1139.0 L497.5,1138.7 L499.4,1138.3 L501.4,1138.0 L503.4,1137.7 L505.4,1137.4 L507.4,1137.1 L509.3,1136.7 L511.3,1136.4 L513.3,1136.1 L515.3,1135.8 L517.3,1135.5 L519.2,1135.2 L521.2,1134.9 L523.2,1134.6 L525.2,1134.4 L527.2,1134.2 L529.2,1133.9 L531.2,1133.7 L533.2,1133.5 L535.2,1133.2 L537.2,1133.0 L539.2,1132.8 L541.2,1132.5 L543.2,1132.3 L545.1,1132.1 L547.1,1131.9 L549.1,1131.6 L551.1,1131.4 L553.1,1131.2 L555.1,1130.9 L557.1,1130.7 L559.1,1130.5 L561.1,1130.2 L563.1,1130.0 L565.1,1129.8 L567.1,1129.5 L569.1,1129.3 L571.1,1129.1 L573.1,1128.9 L575.1,1128.7 L577.0,1128.5 L579.0,1128.3 L581.0,1128.1 L583.0,1127.9 L585.0,1127.7 L587.0,1127.5 L589.0,1127.3 L591.0,1127.1 L593.0,1126.9 L595.0,1126.7 L597.0,1126.5 L599.0,1126.3 L601.0,1126.1 L603.0,1125.9 L605.0,1125.7 L607.0,1125.5 L609.0,1125.3 L611.0,1125.1 L613.0,1124.9 L615.0,1124.7 L617.0,1124.5 L619.0,1124.3 L621.0,1124.1 L623.0,1124.0 L625.0,1123.8 L627.0,1123.6 L629.0,1123.4 L631.0,1123.3 L633.0,1123.1 L635.0,1122.9 L637.0,1122.8 L639.0,1122.6 L641.0,1122.4 L643.0,1122.3 L645.0,1122.1 L647.0,1121.9 L649.0,1121.8 L651.0,1121.6 L653.0,1121.4 L655.0,1121.3 L657.0,1121.1 L659.0,1120.9 L661.0,1120.8 L663.0,1120.6 L665.0,1120.4 L667.0,1120.3 L669.0,1120.1 L671.0,1120.0 L673.0,1119.8 L675.0,1119.7 L677.0,1119.6 L679.0,1119.4 L681.0,1119.3 L683.0,1119.2 L685.0,1119.0 L687.0,1118.9 L689.0,1118.8 L691.0,1118.7 L693.0,1118.5 L695.0,1118.4 L697.0,1118.3 L699.0,1118.1 L701.0,1118.0 L703.0,1117.9 L705.0,1117.8 L707.0,1117.6 L709.0,1117.5" stroke="#000" stroke-width="3.0" fill="none" stroke-linejoin="round"/>
<rect x="326.60" y="784.60" width="383.10" height="416.10" fill="none" stroke="#111" stroke-width="2.4"/>
<text x="326.60" y="1225.86" font-size="12.5" fill="#1a1a1a" font-weight="bold" text-anchor="middle" font-family="'DejaVu Sans', Verdana, sans-serif">0</text>
<text x="390.45" y="1225.86" font-size="12.5" fill="#1a1a1a" font-weight="bold" text-anchor="middle" font-family="'DejaVu Sans', Verdana, sans-serif">100</text>
<text x="454.30" y="1225.86" font-size="12.5" fill="#1a1a1a" font-weight="bold" text-anchor="middle" font-family="'DejaVu Sans', Verdana, sans-serif">200</text>
<text x="518.15" y="1225.86" font-size="12.5" fill="#1a1a1a" font-weight="bold" text-anchor="middle" font-family="'DejaVu Sans', Verdana, sans-serif">300</text>
<text x="582.00" y="1225.86" font-size="12.5" fill="#1a1a1a" font-weight="bold" text-anchor="middle" font-family="'DejaVu Sans', Verdana, sans-serif">400</text>
<text x="645.85" y="1225.86" font-size="12.5" fill="#1a1a1a" font-weight="bold" text-anchor="middle" font-family="'DejaVu Sans', Verdana, sans-serif">500</text>
<text x="709.70" y="1225.86" font-size="12.5" fill="#1a1a1a" font-weight="bold" text-anchor="middle" font-family="'DejaVu Sans', Verdana, sans-serif">600</text>
<text x="313.50" y="1205.57" font-size="12" font-weight="bold" fill="#1a1a1a" text-anchor="end" font-family="'DejaVu Sans', Verdana, sans-serif">10<tspan dy="-5.40" font-size="8">0</tspan></text>
<text x="313.50" y="1122.35" font-size="12" font-weight="bold" fill="#1a1a1a" text-anchor="end" font-family="'DejaVu Sans', Verdana, sans-serif">10<tspan dy="-5.40" font-size="8">1</tspan></text>
<text x="313.50" y="1039.13" font-size="12" font-weight="bold" fill="#1a1a1a" text-anchor="end" font-family="'DejaVu Sans', Verdana, sans-serif">10<tspan dy="-5.40" font-size="8">2</tspan></text>
<text x="313.50" y="955.91" font-size="12" font-weight="bold" fill="#1a1a1a" text-anchor="end" font-family="'DejaVu Sans', Verdana, sans-serif">10<tspan dy="-5.40" font-size="8">3</tspan></text>
<text x="313.50" y="872.69" font-size="12" font-weight="bold" fill="#1a1a1a" text-anchor="end" font-family="'DejaVu Sans', Verdana, sans-serif">10<tspan dy="-5.40" font-size="8">4</tspan></text>
<text x="313.50" y="789.47" font-size="12" font-weight="bold" fill="#1a1a1a" text-anchor="end" font-family="'DejaVu Sans', Verdana, sans-serif">10<tspan dy="-5.40" font-size="8">5</tspan></text>
<text x="488.70" y="1252.70" font-size="15.5" font-weight="bold" fill="#1a1a1a" font-family="'DejaVu Sans', Verdana, sans-serif" textLength="59.0" lengthAdjust="spacing"><tspan font-style="italic">V</tspan><tspan dy="3.8" font-size="10">DS</tspan><tspan dy="-3.8"> [V]</tspan></text>
<text transform="translate(265.00,1016.20) rotate(-90)" x="0" y="0" font-size="15.5" font-weight="bold" fill="#1a1a1a" font-family="'DejaVu Sans', Verdana, sans-serif" textLength="47.6" lengthAdjust="spacing"><tspan>C</tspan><tspan dy="0" font-size="10"></tspan><tspan dy="0"> [pF]</tspan></text>
<line x1="931.27" y1="784.70" x2="931.27" y2="1202.30" stroke="#cfcfcf" stroke-width="2.2"/>
<line x1="995.22" y1="784.70" x2="995.22" y2="1202.30" stroke="#cfcfcf" stroke-width="2.2"/>
<line x1="1059.17" y1="784.70" x2="1059.17" y2="1202.30" stroke="#cfcfcf" stroke-width="2.2"/>
<line x1="1123.12" y1="784.70" x2="1123.12" y2="1202.30" stroke="#cfcfcf" stroke-width="2.2"/>
<line x1="1187.08" y1="784.70" x2="1187.08" y2="1202.30" stroke="#cfcfcf" stroke-width="2.2"/>
<line x1="1251.03" y1="784.70" x2="1251.03" y2="1202.30" stroke="#cfcfcf" stroke-width="2.2"/>
<line x1="963.25" y1="784.70" x2="963.25" y2="1205.30" stroke="#9c9c9c" stroke-width="2.0"/>
<line x1="1027.20" y1="784.70" x2="1027.20" y2="1205.30" stroke="#9c9c9c" stroke-width="2.0"/>
<line x1="1091.15" y1="784.70" x2="1091.15" y2="1205.30" stroke="#9c9c9c" stroke-width="2.0"/>
<line x1="1155.10" y1="784.70" x2="1155.10" y2="1205.30" stroke="#9c9c9c" stroke-width="2.0"/>
<line x1="1219.05" y1="784.70" x2="1219.05" y2="1205.30" stroke="#9c9c9c" stroke-width="2.0"/>
<line x1="896.30" y1="1142.64" x2="1283.00" y2="1142.64" stroke="#9c9c9c" stroke-width="2.2"/>
<line x1="896.30" y1="1082.99" x2="1283.00" y2="1082.99" stroke="#9c9c9c" stroke-width="2.2"/>
<line x1="896.30" y1="1023.33" x2="1283.00" y2="1023.33" stroke="#9c9c9c" stroke-width="2.2"/>
<line x1="896.30" y1="963.67" x2="1283.00" y2="963.67" stroke="#9c9c9c" stroke-width="2.2"/>
<line x1="896.30" y1="904.01" x2="1283.00" y2="904.01" stroke="#9c9c9c" stroke-width="2.2"/>
<line x1="896.30" y1="844.36" x2="1283.00" y2="844.36" stroke="#9c9c9c" stroke-width="2.2"/>
<line x1="899.30" y1="784.70" x2="1283.00" y2="784.70" stroke="#555" stroke-width="1.6"/>
<line x1="1283.00" y1="784.70" x2="1283.00" y2="1202.30" stroke="#555" stroke-width="2.0"/>
<path d="M899.30,1202.30 L900.58,1202.15 L901.86,1201.32 L903.14,1199.89 L904.42,1197.95 L905.69,1195.58 L906.97,1192.85 L908.25,1189.87 L909.53,1186.70 L910.81,1183.42 L912.09,1180.13 L913.37,1176.90 L914.65,1173.81 L915.93,1170.90 L917.21,1168.16 L918.48,1165.59 L919.76,1163.18 L921.04,1160.93 L922.32,1158.81 L923.60,1156.84 L924.88,1154.99 L926.16,1153.26 L927.44,1151.65 L928.72,1150.14 L930.00,1148.73 L931.27,1147.41 L932.55,1146.18 L933.83,1145.02 L935.11,1143.93 L936.39,1142.90 L937.67,1141.92 L938.95,1140.99 L940.23,1140.10 L941.51,1139.24 L942.79,1138.40 L944.06,1137.58 L945.34,1136.76 L946.62,1135.97 L947.90,1135.18 L949.18,1134.40 L950.46,1133.63 L951.74,1132.88 L956.22,1130.31 L960.69,1127.84 L965.17,1125.47 L969.64,1123.16 L974.12,1120.91 L978.60,1118.71 L983.07,1116.53 L987.55,1114.35 L992.03,1112.17 L996.50,1109.96 L1000.98,1107.72 L1005.46,1105.42 L1009.93,1103.04 L1014.41,1100.58 L1018.89,1098.01 L1023.36,1095.32 L1027.84,1092.50 L1032.32,1089.53 L1036.79,1086.42 L1041.27,1083.18 L1045.75,1079.84 L1050.22,1076.41 L1054.70,1072.91 L1059.17,1069.34 L1063.65,1065.74 L1068.13,1062.10 L1072.60,1058.46 L1077.08,1054.82 L1081.56,1051.18 L1086.03,1047.54 L1090.51,1043.90 L1094.99,1040.24 L1099.46,1036.56 L1103.94,1032.85 L1108.42,1029.11 L1112.89,1025.33 L1117.37,1021.50 L1121.85,1017.62 L1126.32,1013.67 L1130.80,1009.66 L1135.28,1005.58 L1139.75,1001.41 L1144.23,997.16 L1148.70,992.81 L1153.18,988.36 L1157.66,983.81 L1162.13,979.15 L1166.61,974.38 L1171.09,969.52 L1175.56,964.57 L1180.04,959.54 L1184.52,954.44 L1188.99,949.27 L1193.47,944.05 L1197.95,938.79 L1202.42,933.48 L1206.90,928.14 L1211.38,922.78 L1215.85,917.40 L1220.33,912.02 L1224.81,906.63 L1229.28,901.26 L1233.76,895.90 L1238.23,890.56 L1242.71,885.26 L1247.19,880.00 L1251.66,874.78 L1256.14,869.63 L1260.62,864.53 L1265.09,859.51 L1269.57,854.57 L1274.05,849.72 L1278.52,844.96 L1283.00,840.31" stroke="#000" stroke-width="3.0" fill="none" stroke-linejoin="round"/>
<line x1="899.30" y1="783.70" x2="899.30" y2="1203.80" stroke="#222" stroke-width="3.2"/>
<line x1="896.30" y1="1202.30" x2="1284.00" y2="1202.30" stroke="#111" stroke-width="3.0"/>
<text x="899.30" y="1228.56" font-size="12.5" fill="#1a1a1a" font-weight="bold" text-anchor="middle" font-family="'DejaVu Sans', Verdana, sans-serif">0</text>
<text x="963.25" y="1228.56" font-size="12.5" fill="#1a1a1a" font-weight="bold" text-anchor="middle" font-family="'DejaVu Sans', Verdana, sans-serif">100</text>
<text x="1027.20" y="1228.56" font-size="12.5" fill="#1a1a1a" font-weight="bold" text-anchor="middle" font-family="'DejaVu Sans', Verdana, sans-serif">200</text>
<text x="1091.15" y="1228.56" font-size="12.5" fill="#1a1a1a" font-weight="bold" text-anchor="middle" font-family="'DejaVu Sans', Verdana, sans-serif">300</text>
<text x="1155.10" y="1228.56" font-size="12.5" fill="#1a1a1a" font-weight="bold" text-anchor="middle" font-family="'DejaVu Sans', Verdana, sans-serif">400</text>
<text x="1219.05" y="1228.56" font-size="12.5" fill="#1a1a1a" font-weight="bold" text-anchor="middle" font-family="'DejaVu Sans', Verdana, sans-serif">500</text>
<text x="1283.00" y="1228.56" font-size="12.5" fill="#1a1a1a" font-weight="bold" text-anchor="middle" font-family="'DejaVu Sans', Verdana, sans-serif">600</text>
<text x="885.60" y="1206.37" font-size="12" fill="#1a1a1a" font-weight="bold" text-anchor="end" font-family="'DejaVu Sans', Verdana, sans-serif">0</text>
<text x="885.60" y="1146.72" font-size="12" fill="#1a1a1a" font-weight="bold" text-anchor="end" font-family="'DejaVu Sans', Verdana, sans-serif">1</text>
<text x="885.60" y="1087.06" font-size="12" fill="#1a1a1a" font-weight="bold" text-anchor="end" font-family="'DejaVu Sans', Verdana, sans-serif">2</text>
<text x="885.60" y="1027.40" font-size="12" fill="#1a1a1a" font-weight="bold" text-anchor="end" font-family="'DejaVu Sans', Verdana, sans-serif">3</text>
<text x="885.60" y="967.75" font-size="12" fill="#1a1a1a" font-weight="bold" text-anchor="end" font-family="'DejaVu Sans', Verdana, sans-serif">4</text>
<text x="885.60" y="908.09" font-size="12" fill="#1a1a1a" font-weight="bold" text-anchor="end" font-family="'DejaVu Sans', Verdana, sans-serif">5</text>
<text x="885.60" y="848.43" font-size="12" fill="#1a1a1a" font-weight="bold" text-anchor="end" font-family="'DejaVu Sans', Verdana, sans-serif">6</text>
<text x="885.60" y="788.77" font-size="12" fill="#1a1a1a" font-weight="bold" text-anchor="end" font-family="'DejaVu Sans', Verdana, sans-serif">7</text>
<text x="1062.00" y="1252.70" font-size="15.5" font-weight="bold" fill="#1a1a1a" font-family="'DejaVu Sans', Verdana, sans-serif" textLength="60.7" lengthAdjust="spacing"><tspan font-style="italic">V</tspan><tspan dy="3.8" font-size="10">DS</tspan><tspan dy="-3.8"> [V]</tspan></text>
<text transform="translate(840.50,1026.10) rotate(-90)" x="0" y="0" font-size="15.5" font-weight="bold" fill="#1a1a1a" font-family="'DejaVu Sans', Verdana, sans-serif" textLength="64.4" lengthAdjust="spacing"><tspan font-style="italic">E</tspan><tspan dy="3.5" font-size="7.5">oss</tspan><tspan dy="-3.5"> [µJ]</tspan></text>
<line x1="369.72" y1="1352.30" x2="369.72" y2="1768.40" stroke="#a8a8a8" stroke-width="1.2"/>
<line x1="392.49" y1="1352.30" x2="392.49" y2="1768.40" stroke="#a8a8a8" stroke-width="1.2"/>
<line x1="408.65" y1="1352.30" x2="408.65" y2="1768.40" stroke="#a8a8a8" stroke-width="1.2"/>
<line x1="421.18" y1="1352.30" x2="421.18" y2="1768.40" stroke="#a8a8a8" stroke-width="1.2"/>
<line x1="431.41" y1="1352.30" x2="431.41" y2="1768.40" stroke="#a8a8a8" stroke-width="1.2"/>
<line x1="440.07" y1="1352.30" x2="440.07" y2="1768.40" stroke="#a8a8a8" stroke-width="1.2"/>
<line x1="447.57" y1="1352.30" x2="447.57" y2="1768.40" stroke="#a8a8a8" stroke-width="1.2"/>
<line x1="454.18" y1="1352.30" x2="454.18" y2="1768.40" stroke="#a8a8a8" stroke-width="1.2"/>
<line x1="499.02" y1="1352.30" x2="499.02" y2="1768.40" stroke="#a8a8a8" stroke-width="1.2"/>
<line x1="521.79" y1="1352.30" x2="521.79" y2="1768.40" stroke="#a8a8a8" stroke-width="1.2"/>
<line x1="537.95" y1="1352.30" x2="537.95" y2="1768.40" stroke="#a8a8a8" stroke-width="1.2"/>
<line x1="550.48" y1="1352.30" x2="550.48" y2="1768.40" stroke="#a8a8a8" stroke-width="1.2"/>
<line x1="560.71" y1="1352.30" x2="560.71" y2="1768.40" stroke="#a8a8a8" stroke-width="1.2"/>
<line x1="569.37" y1="1352.30" x2="569.37" y2="1768.40" stroke="#a8a8a8" stroke-width="1.2"/>
<line x1="576.87" y1="1352.30" x2="576.87" y2="1768.40" stroke="#a8a8a8" stroke-width="1.2"/>
<line x1="583.48" y1="1352.30" x2="583.48" y2="1768.40" stroke="#a8a8a8" stroke-width="1.2"/>
<line x1="628.32" y1="1352.30" x2="628.32" y2="1768.40" stroke="#a8a8a8" stroke-width="1.2"/>
<line x1="651.09" y1="1352.30" x2="651.09" y2="1768.40" stroke="#a8a8a8" stroke-width="1.2"/>
<line x1="667.25" y1="1352.30" x2="667.25" y2="1768.40" stroke="#a8a8a8" stroke-width="1.2"/>
<line x1="679.78" y1="1352.30" x2="679.78" y2="1768.40" stroke="#a8a8a8" stroke-width="1.2"/>
<line x1="690.01" y1="1352.30" x2="690.01" y2="1768.40" stroke="#a8a8a8" stroke-width="1.2"/>
<line x1="698.67" y1="1352.30" x2="698.67" y2="1768.40" stroke="#a8a8a8" stroke-width="1.2"/>
<line x1="706.17" y1="1352.30" x2="706.17" y2="1768.40" stroke="#a8a8a8" stroke-width="1.2"/>
<line x1="712.78" y1="1352.30" x2="712.78" y2="1768.40" stroke="#a8a8a8" stroke-width="1.2"/>
<line x1="330.80" y1="1726.65" x2="719.20" y2="1726.65" stroke="#a8a8a8" stroke-width="1.2"/>
<line x1="330.80" y1="1702.22" x2="719.20" y2="1702.22" stroke="#a8a8a8" stroke-width="1.2"/>
<line x1="330.80" y1="1684.89" x2="719.20" y2="1684.89" stroke="#a8a8a8" stroke-width="1.2"/>
<line x1="330.80" y1="1671.45" x2="719.20" y2="1671.45" stroke="#a8a8a8" stroke-width="1.2"/>
<line x1="330.80" y1="1660.47" x2="719.20" y2="1660.47" stroke="#a8a8a8" stroke-width="1.2"/>
<line x1="330.80" y1="1651.18" x2="719.20" y2="1651.18" stroke="#a8a8a8" stroke-width="1.2"/>
<line x1="330.80" y1="1643.14" x2="719.20" y2="1643.14" stroke="#a8a8a8" stroke-width="1.2"/>
<line x1="330.80" y1="1636.05" x2="719.20" y2="1636.05" stroke="#a8a8a8" stroke-width="1.2"/>
<line x1="330.80" y1="1587.95" x2="719.20" y2="1587.95" stroke="#a8a8a8" stroke-width="1.2"/>
<line x1="330.80" y1="1563.52" x2="719.20" y2="1563.52" stroke="#a8a8a8" stroke-width="1.2"/>
<line x1="330.80" y1="1546.19" x2="719.20" y2="1546.19" stroke="#a8a8a8" stroke-width="1.2"/>
<line x1="330.80" y1="1532.75" x2="719.20" y2="1532.75" stroke="#a8a8a8" stroke-width="1.2"/>
<line x1="330.80" y1="1521.77" x2="719.20" y2="1521.77" stroke="#a8a8a8" stroke-width="1.2"/>
<line x1="330.80" y1="1512.48" x2="719.20" y2="1512.48" stroke="#a8a8a8" stroke-width="1.2"/>
<line x1="330.80" y1="1504.44" x2="719.20" y2="1504.44" stroke="#a8a8a8" stroke-width="1.2"/>
<line x1="330.80" y1="1497.35" x2="719.20" y2="1497.35" stroke="#a8a8a8" stroke-width="1.2"/>
<line x1="330.80" y1="1449.25" x2="719.20" y2="1449.25" stroke="#a8a8a8" stroke-width="1.2"/>
<line x1="330.80" y1="1424.82" x2="719.20" y2="1424.82" stroke="#a8a8a8" stroke-width="1.2"/>
<line x1="330.80" y1="1407.49" x2="719.20" y2="1407.49" stroke="#a8a8a8" stroke-width="1.2"/>
<line x1="330.80" y1="1394.05" x2="719.20" y2="1394.05" stroke="#a8a8a8" stroke-width="1.2"/>
<line x1="330.80" y1="1383.07" x2="719.20" y2="1383.07" stroke="#a8a8a8" stroke-width="1.2"/>
<line x1="330.80" y1="1373.78" x2="719.20" y2="1373.78" stroke="#a8a8a8" stroke-width="1.2"/>
<line x1="330.80" y1="1365.74" x2="719.20" y2="1365.74" stroke="#a8a8a8" stroke-width="1.2"/>
<line x1="330.80" y1="1358.65" x2="719.20" y2="1358.65" stroke="#a8a8a8" stroke-width="1.2"/>
<line x1="460.10" y1="1352.30" x2="460.10" y2="1768.40" stroke="#7a7a7a" stroke-width="1.2"/>
<line x1="589.40" y1="1352.30" x2="589.40" y2="1768.40" stroke="#7a7a7a" stroke-width="1.2"/>
<line x1="330.80" y1="1629.70" x2="719.20" y2="1629.70" stroke="#7a7a7a" stroke-width="1.2"/>
<line x1="330.80" y1="1491.00" x2="719.20" y2="1491.00" stroke="#7a7a7a" stroke-width="1.2"/>
<rect x="330.80" y="1352.30" width="388.40" height="416.10" fill="none" stroke="#111" stroke-width="1.8"/>
<path d="M613.50,1420.00 L706.00,1518.50" stroke="#000" stroke-width="3.6" fill="none" stroke-linejoin="round" stroke-linecap="butt"/>
<path d="M562.00,1420.00 L706.00,1574.00" stroke="#000" stroke-width="3.6" fill="none" stroke-linejoin="round" stroke-linecap="butt"/>
<path d="M514.00,1445.00 L706.00,1647.00" stroke="#000" stroke-width="3.6" fill="none" stroke-linejoin="round" stroke-linecap="butt"/>
<path d="M487.00,1475.50 L706.00,1710.00" stroke="#000" stroke-width="3.6" fill="none" stroke-linejoin="round" stroke-linecap="butt"/>
<path d="M478.50,1484.50 L706.00,1727.00" stroke="#000" stroke-width="3.6" fill="none" stroke-linejoin="round" stroke-linecap="butt"/>
<path d="M331.5,1641.5 L536.5,1418.8 L689.5,1418.8 L706.5,1437.7 L706.5,1768" stroke="#000" stroke-width="4.4" fill="none" stroke-linejoin="round"/>
<rect x="333.00" y="1366.20" width="116.00" height="39.00" fill="#fff"/>
<rect x="660.70" y="1444.10" width="36.00" height="16.00" fill="#fff"/>
<text x="678.70" y="1456.00" font-size="11" fill="#222" font-weight="normal" text-anchor="middle" font-family="'DejaVu Sans', Verdana, sans-serif">1 µs</text>
<rect x="613.70" y="1453.10" width="40.00" height="16.00" fill="#fff"/>
<text x="633.70" y="1465.00" font-size="11" fill="#222" font-weight="normal" text-anchor="middle" font-family="'DejaVu Sans', Verdana, sans-serif">10 µs</text>
<rect x="607.00" y="1510.70" width="46.00" height="16.00" fill="#fff"/>
<text x="630.00" y="1522.60" font-size="11" fill="#222" font-weight="normal" text-anchor="middle" font-family="'DejaVu Sans', Verdana, sans-serif">100 µs</text>
<rect x="602.20" y="1544.00" width="36.00" height="16.00" fill="#fff"/>
<text x="620.20" y="1555.90" font-size="11" fill="#222" font-weight="normal" text-anchor="middle" font-family="'DejaVu Sans', Verdana, sans-serif">1 ms</text>
<rect x="576.70" y="1597.10" width="42.00" height="16.00" fill="#fff"/>
<text x="597.70" y="1609.00" font-size="11" fill="#222" font-weight="normal" text-anchor="middle" font-family="'DejaVu Sans', Verdana, sans-serif">10 ms</text>
<rect x="506.50" y="1563.80" width="24.00" height="16.00" fill="#fff"/>
<text x="518.50" y="1575.70" font-size="11" fill="#222" font-weight="normal" text-anchor="middle" font-family="'DejaVu Sans', Verdana, sans-serif">DC</text>
<text x="337.30" y="1380.00" font-size="11.0" fill="#222" font-weight="normal" text-anchor="start" font-family="'DejaVu Sans', Verdana, sans-serif">limited by on-state</text>
<text x="337.30" y="1394.50" font-size="11.0" fill="#222" font-weight="normal" text-anchor="start" font-family="'DejaVu Sans', Verdana, sans-serif">resistance</text>
<line x1="322.20" y1="1355.30" x2="322.20" y2="1777.90" stroke="#111" stroke-width="1.5"/>
<line x1="316.20" y1="1772.40" x2="708.70" y2="1772.40" stroke="#111" stroke-width="1.5"/>
<line x1="322.20" y1="1772.40" x2="322.20" y2="1777.90" stroke="#111" stroke-width="1.5"/>
<text x="322.20" y="1799.19" font-size="13.7" fill="#111" font-weight="bold" text-anchor="middle" font-family="'DejaVu Sans', Verdana, sans-serif">1</text>
<line x1="450.80" y1="1772.40" x2="450.80" y2="1777.90" stroke="#111" stroke-width="1.5"/>
<text x="450.80" y="1799.19" font-size="13.7" fill="#111" font-weight="bold" text-anchor="middle" font-family="'DejaVu Sans', Verdana, sans-serif">10</text>
<line x1="579.40" y1="1772.40" x2="579.40" y2="1777.90" stroke="#111" stroke-width="1.5"/>
<text x="579.40" y="1799.19" font-size="13.7" fill="#111" font-weight="bold" text-anchor="middle" font-family="'DejaVu Sans', Verdana, sans-serif">100</text>
<line x1="708.00" y1="1772.40" x2="708.00" y2="1777.90" stroke="#111" stroke-width="1.5"/>
<text x="708.00" y="1799.19" font-size="13.7" fill="#111" font-weight="bold" text-anchor="middle" font-family="'DejaVu Sans', Verdana, sans-serif">1000</text>
<line x1="316.20" y1="1355.40" x2="322.20" y2="1355.40" stroke="#111" stroke-width="1.5"/>
<text x="308.50" y="1360.58" font-size="14.2" font-weight="bold" fill="#111" text-anchor="end" font-family="'DejaVu Sans', Verdana, sans-serif">10<tspan dy="-6.30" font-size="9.9">2</tspan></text>
<line x1="316.20" y1="1494.00" x2="322.20" y2="1494.00" stroke="#111" stroke-width="1.5"/>
<text x="308.50" y="1499.18" font-size="14.2" font-weight="bold" fill="#111" text-anchor="end" font-family="'DejaVu Sans', Verdana, sans-serif">10<tspan dy="-6.30" font-size="9.9">1</tspan></text>
<line x1="316.20" y1="1633.00" x2="322.20" y2="1633.00" stroke="#111" stroke-width="1.5"/>
<text x="308.50" y="1638.18" font-size="14.2" font-weight="bold" fill="#111" text-anchor="end" font-family="'DejaVu Sans', Verdana, sans-serif">10<tspan dy="-6.30" font-size="9.9">0</tspan></text>
<line x1="316.20" y1="1772.40" x2="322.20" y2="1772.40" stroke="#111" stroke-width="1.5"/>
<text x="308.50" y="1777.58" font-size="14.2" font-weight="bold" fill="#111" text-anchor="end" font-family="'DejaVu Sans', Verdana, sans-serif">10<tspan dy="-6.30" font-size="9.9">-1</tspan></text>
<text x="486.30" y="1827.30" font-size="16" font-weight="bold" fill="#1a1a1a" font-family="'DejaVu Sans', Verdana, sans-serif" textLength="60.4" lengthAdjust="spacing"><tspan font-style="italic">V</tspan><tspan dy="3.5" font-size="11">DS</tspan><tspan dy="-3.5"> [V]</tspan></text>
<text transform="translate(263.30,1584.00) rotate(-90)" x="0" y="0" font-size="16.5" font-weight="bold" fill="#1a1a1a" font-family="'DejaVu Sans', Verdana, sans-serif" textLength="41.4" lengthAdjust="spacing"><tspan font-style="italic">I</tspan><tspan dy="3.8" font-size="11">D</tspan><tspan dy="-3.8"> [A]</tspan></text>
<line x1="936.22" y1="1357.30" x2="936.22" y2="1772.40" stroke="#bdbdbd" stroke-width="2.0"/>
<line x1="959.74" y1="1357.30" x2="959.74" y2="1772.40" stroke="#bdbdbd" stroke-width="2.0"/>
<line x1="976.44" y1="1357.30" x2="976.44" y2="1772.40" stroke="#bdbdbd" stroke-width="2.0"/>
<line x1="989.38" y1="1357.30" x2="989.38" y2="1772.40" stroke="#bdbdbd" stroke-width="2.0"/>
<line x1="999.96" y1="1357.30" x2="999.96" y2="1772.40" stroke="#bdbdbd" stroke-width="2.0"/>
<line x1="1008.91" y1="1357.30" x2="1008.91" y2="1772.40" stroke="#bdbdbd" stroke-width="2.0"/>
<line x1="1016.65" y1="1357.30" x2="1016.65" y2="1772.40" stroke="#bdbdbd" stroke-width="2.0"/>
<line x1="1023.49" y1="1357.30" x2="1023.49" y2="1772.40" stroke="#bdbdbd" stroke-width="2.0"/>
<line x1="1069.82" y1="1357.30" x2="1069.82" y2="1772.40" stroke="#bdbdbd" stroke-width="2.0"/>
<line x1="1093.34" y1="1357.30" x2="1093.34" y2="1772.40" stroke="#bdbdbd" stroke-width="2.0"/>
<line x1="1110.04" y1="1357.30" x2="1110.04" y2="1772.40" stroke="#bdbdbd" stroke-width="2.0"/>
<line x1="1122.98" y1="1357.30" x2="1122.98" y2="1772.40" stroke="#bdbdbd" stroke-width="2.0"/>
<line x1="1133.56" y1="1357.30" x2="1133.56" y2="1772.40" stroke="#bdbdbd" stroke-width="2.0"/>
<line x1="1142.51" y1="1357.30" x2="1142.51" y2="1772.40" stroke="#bdbdbd" stroke-width="2.0"/>
<line x1="1150.25" y1="1357.30" x2="1150.25" y2="1772.40" stroke="#bdbdbd" stroke-width="2.0"/>
<line x1="1157.09" y1="1357.30" x2="1157.09" y2="1772.40" stroke="#bdbdbd" stroke-width="2.0"/>
<line x1="1203.42" y1="1357.30" x2="1203.42" y2="1772.40" stroke="#bdbdbd" stroke-width="2.0"/>
<line x1="1226.94" y1="1357.30" x2="1226.94" y2="1772.40" stroke="#bdbdbd" stroke-width="2.0"/>
<line x1="1243.64" y1="1357.30" x2="1243.64" y2="1772.40" stroke="#bdbdbd" stroke-width="2.0"/>
<line x1="1256.58" y1="1357.30" x2="1256.58" y2="1772.40" stroke="#bdbdbd" stroke-width="2.0"/>
<line x1="1267.16" y1="1357.30" x2="1267.16" y2="1772.40" stroke="#bdbdbd" stroke-width="2.0"/>
<line x1="1276.11" y1="1357.30" x2="1276.11" y2="1772.40" stroke="#bdbdbd" stroke-width="2.0"/>
<line x1="1283.85" y1="1357.30" x2="1283.85" y2="1772.40" stroke="#bdbdbd" stroke-width="2.0"/>
<line x1="1290.69" y1="1357.30" x2="1290.69" y2="1772.40" stroke="#bdbdbd" stroke-width="2.0"/>
<line x1="896.00" y1="1730.75" x2="1296.00" y2="1730.75" stroke="#bdbdbd" stroke-width="2.0"/>
<line x1="896.00" y1="1706.38" x2="1296.00" y2="1706.38" stroke="#bdbdbd" stroke-width="2.0"/>
<line x1="896.00" y1="1689.09" x2="1296.00" y2="1689.09" stroke="#bdbdbd" stroke-width="2.0"/>
<line x1="896.00" y1="1675.68" x2="1296.00" y2="1675.68" stroke="#bdbdbd" stroke-width="2.0"/>
<line x1="896.00" y1="1664.73" x2="1296.00" y2="1664.73" stroke="#bdbdbd" stroke-width="2.0"/>
<line x1="896.00" y1="1655.46" x2="1296.00" y2="1655.46" stroke="#bdbdbd" stroke-width="2.0"/>
<line x1="896.00" y1="1647.44" x2="1296.00" y2="1647.44" stroke="#bdbdbd" stroke-width="2.0"/>
<line x1="896.00" y1="1640.36" x2="1296.00" y2="1640.36" stroke="#bdbdbd" stroke-width="2.0"/>
<line x1="896.00" y1="1592.38" x2="1296.00" y2="1592.38" stroke="#bdbdbd" stroke-width="2.0"/>
<line x1="896.00" y1="1568.01" x2="1296.00" y2="1568.01" stroke="#bdbdbd" stroke-width="2.0"/>
<line x1="896.00" y1="1550.72" x2="1296.00" y2="1550.72" stroke="#bdbdbd" stroke-width="2.0"/>
<line x1="896.00" y1="1537.31" x2="1296.00" y2="1537.31" stroke="#bdbdbd" stroke-width="2.0"/>
<line x1="896.00" y1="1526.36" x2="1296.00" y2="1526.36" stroke="#bdbdbd" stroke-width="2.0"/>
<line x1="896.00" y1="1517.09" x2="1296.00" y2="1517.09" stroke="#bdbdbd" stroke-width="2.0"/>
<line x1="896.00" y1="1509.07" x2="1296.00" y2="1509.07" stroke="#bdbdbd" stroke-width="2.0"/>
<line x1="896.00" y1="1501.99" x2="1296.00" y2="1501.99" stroke="#bdbdbd" stroke-width="2.0"/>
<line x1="896.00" y1="1454.01" x2="1296.00" y2="1454.01" stroke="#bdbdbd" stroke-width="2.0"/>
<line x1="896.00" y1="1429.64" x2="1296.00" y2="1429.64" stroke="#bdbdbd" stroke-width="2.0"/>
<line x1="896.00" y1="1412.35" x2="1296.00" y2="1412.35" stroke="#bdbdbd" stroke-width="2.0"/>
<line x1="896.00" y1="1398.94" x2="1296.00" y2="1398.94" stroke="#bdbdbd" stroke-width="2.0"/>
<line x1="896.00" y1="1387.99" x2="1296.00" y2="1387.99" stroke="#bdbdbd" stroke-width="2.0"/>
<line x1="896.00" y1="1378.72" x2="1296.00" y2="1378.72" stroke="#bdbdbd" stroke-width="2.0"/>
<line x1="896.00" y1="1370.70" x2="1296.00" y2="1370.70" stroke="#bdbdbd" stroke-width="2.0"/>
<line x1="896.00" y1="1363.62" x2="1296.00" y2="1363.62" stroke="#bdbdbd" stroke-width="2.0"/>
<line x1="1029.60" y1="1357.30" x2="1029.60" y2="1772.40" stroke="#8c8c8c" stroke-width="2.0"/>
<line x1="1163.20" y1="1357.30" x2="1163.20" y2="1772.40" stroke="#8c8c8c" stroke-width="2.0"/>
<line x1="896.00" y1="1634.03" x2="1296.00" y2="1634.03" stroke="#8c8c8c" stroke-width="2.0"/>
<line x1="896.00" y1="1495.66" x2="1296.00" y2="1495.66" stroke="#8c8c8c" stroke-width="2.0"/>
<rect x="896.00" y="1357.30" width="400.00" height="415.10" fill="none" stroke="#111" stroke-width="2.2"/>
<path d="M1184.00,1421.00 L1283.40,1521.80" stroke="#000" stroke-width="3.6" fill="none" stroke-linejoin="round" stroke-linecap="butt"/>
<path d="M1129.40,1421.00 L1283.40,1579.20" stroke="#000" stroke-width="3.6" fill="none" stroke-linejoin="round" stroke-linecap="butt"/>
<path d="M1087.70,1447.90 L1283.40,1648.90" stroke="#000" stroke-width="3.6" fill="none" stroke-linejoin="round" stroke-linecap="butt"/>
<path d="M1063.40,1475.60 L1283.40,1699.10" stroke="#000" stroke-width="3.6" fill="none" stroke-linejoin="round" stroke-linecap="butt"/>
<path d="M1004.50,1537.30 L1233.30,1772.40" stroke="#000" stroke-width="3.6" fill="none" stroke-linejoin="round" stroke-linecap="butt"/>
<path d="M896.5,1646 L1108,1424.5 Q1112,1420.3 1121.5,1420.3 L1256.5,1420.3 Q1261,1420.3 1266,1424 L1283.4,1442.5 L1283.4,1772.4" stroke="#000" stroke-width="4.4" fill="none" stroke-linejoin="round"/>
<rect x="897.00" y="1372.90" width="122.00" height="37.00" fill="#fff"/>
<rect x="1236.70" y="1448.00" width="36.00" height="16.00" fill="#fff"/>
<text x="1254.70" y="1459.90" font-size="11" fill="#222" font-weight="normal" text-anchor="middle" font-family="'DejaVu Sans', Verdana, sans-serif">1 µs</text>
<rect x="1188.50" y="1458.50" width="40.00" height="16.00" fill="#fff"/>
<text x="1208.50" y="1470.40" font-size="11" fill="#222" font-weight="normal" text-anchor="middle" font-family="'DejaVu Sans', Verdana, sans-serif">10 µs</text>
<rect x="1182.00" y="1515.20" width="46.00" height="16.00" fill="#fff"/>
<text x="1205.00" y="1527.10" font-size="11" fill="#222" font-weight="normal" text-anchor="middle" font-family="'DejaVu Sans', Verdana, sans-serif">100 µs</text>
<rect x="1176.50" y="1547.40" width="36.00" height="16.00" fill="#fff"/>
<text x="1194.50" y="1559.30" font-size="11" fill="#222" font-weight="normal" text-anchor="middle" font-family="'DejaVu Sans', Verdana, sans-serif">1 ms</text>
<rect x="1151.10" y="1588.00" width="42.00" height="16.00" fill="#fff"/>
<text x="1172.10" y="1599.90" font-size="11" fill="#222" font-weight="normal" text-anchor="middle" font-family="'DejaVu Sans', Verdana, sans-serif">10 ms</text>
<rect x="1078.50" y="1660.60" width="24.00" height="16.00" fill="#fff"/>
<text x="1090.50" y="1672.50" font-size="11" fill="#222" font-weight="normal" text-anchor="middle" font-family="'DejaVu Sans', Verdana, sans-serif">DC</text>
<text x="903.70" y="1384.70" font-size="11.0" fill="#222" font-weight="normal" text-anchor="start" font-family="'DejaVu Sans', Verdana, sans-serif">limited by on-state</text>
<text x="903.70" y="1399.30" font-size="11.0" fill="#222" font-weight="normal" text-anchor="start" font-family="'DejaVu Sans', Verdana, sans-serif">resistance</text>
<line x1="887.30" y1="1360.70" x2="887.30" y2="1781.00" stroke="#111" stroke-width="1.5"/>
<line x1="881.30" y1="1775.50" x2="1287.90" y2="1775.50" stroke="#111" stroke-width="1.5"/>
<line x1="887.30" y1="1775.50" x2="887.30" y2="1781.00" stroke="#111" stroke-width="1.5"/>
<text x="887.30" y="1802.59" font-size="13.7" fill="#111" font-weight="bold" text-anchor="middle" font-family="'DejaVu Sans', Verdana, sans-serif">1</text>
<line x1="1021.10" y1="1775.50" x2="1021.10" y2="1781.00" stroke="#111" stroke-width="1.5"/>
<text x="1021.10" y="1802.59" font-size="13.7" fill="#111" font-weight="bold" text-anchor="middle" font-family="'DejaVu Sans', Verdana, sans-serif">10</text>
<line x1="1154.20" y1="1775.50" x2="1154.20" y2="1781.00" stroke="#111" stroke-width="1.5"/>
<text x="1154.20" y="1802.59" font-size="13.7" fill="#111" font-weight="bold" text-anchor="middle" font-family="'DejaVu Sans', Verdana, sans-serif">100</text>
<line x1="1287.20" y1="1775.50" x2="1287.20" y2="1781.00" stroke="#111" stroke-width="1.5"/>
<text x="1287.20" y="1802.59" font-size="13.7" fill="#111" font-weight="bold" text-anchor="middle" font-family="'DejaVu Sans', Verdana, sans-serif">1000</text>
<line x1="881.30" y1="1360.70" x2="887.30" y2="1360.70" stroke="#111" stroke-width="1.5"/>
<text x="874.30" y="1365.88" font-size="14.2" font-weight="bold" fill="#111" text-anchor="end" font-family="'DejaVu Sans', Verdana, sans-serif">10<tspan dy="-6.30" font-size="9.9">2</tspan></text>
<line x1="881.30" y1="1498.40" x2="887.30" y2="1498.40" stroke="#111" stroke-width="1.5"/>
<text x="874.30" y="1503.58" font-size="14.2" font-weight="bold" fill="#111" text-anchor="end" font-family="'DejaVu Sans', Verdana, sans-serif">10<tspan dy="-6.30" font-size="9.9">1</tspan></text>
<line x1="881.30" y1="1636.90" x2="887.30" y2="1636.90" stroke="#111" stroke-width="1.5"/>
<text x="874.30" y="1642.08" font-size="14.2" font-weight="bold" fill="#111" text-anchor="end" font-family="'DejaVu Sans', Verdana, sans-serif">10<tspan dy="-6.30" font-size="9.9">0</tspan></text>
<line x1="881.30" y1="1775.50" x2="887.30" y2="1775.50" stroke="#111" stroke-width="1.5"/>
<text x="874.30" y="1780.68" font-size="14.2" font-weight="bold" fill="#111" text-anchor="end" font-family="'DejaVu Sans', Verdana, sans-serif">10<tspan dy="-6.30" font-size="9.9">-1</tspan></text>
<text x="1056.70" y="1830.30" font-size="16" font-weight="bold" fill="#1a1a1a" font-family="'DejaVu Sans', Verdana, sans-serif" textLength="62.6" lengthAdjust="spacing"><tspan font-style="italic">V</tspan><tspan dy="3.5" font-size="11">DS</tspan><tspan dy="-3.5"> [V]</tspan></text>
<text transform="translate(828.30,1588.60) rotate(-90)" x="0" y="0" font-size="16.5" font-weight="bold" fill="#1a1a1a" font-family="'DejaVu Sans', Verdana, sans-serif" textLength="40.3" lengthAdjust="spacing"><tspan font-style="italic">I</tspan><tspan dy="3.8" font-size="11">D</tspan><tspan dy="-3.8"> [A]</tspan></text>
<text x="411.00" y="718.60" font-size="16" fill="#2a2a2a" font-family="'Liberation Sans', 'DejaVu Sans', sans-serif" textLength="263.4" lengthAdjust="spacingAndGlyphs">Figure 7: Body-Diode Characteristics</text>
<text x="883.60" y="718.60" font-size="16" fill="#2a2a2a" font-family="'Liberation Sans', 'DejaVu Sans', sans-serif" textLength="270.0" lengthAdjust="spacingAndGlyphs">Figure 8: Gate-Charge Characteristics</text>
<text x="410.00" y="1293.60" font-size="16" fill="#2a2a2a" font-family="'Liberation Sans', 'DejaVu Sans', sans-serif" textLength="264.4" lengthAdjust="spacingAndGlyphs">Figure 9: Capacitance Characteristics</text>
<text x="932" y="1293.8" font-size="16" fill="#2a2a2a" font-family="'Liberation Sans', 'DejaVu Sans', sans-serif" textLength="204.3" lengthAdjust="spacingAndGlyphs">Figure 10: C<tspan dy="3.8" font-size="11">oss</tspan><tspan dy="-3.8"> stored Energy</tspan></text>
<text x="336.50" y="1867.50" font-size="16" fill="#2a2a2a" font-family="'Liberation Sans', 'DejaVu Sans', sans-serif" textLength="412.5" lengthAdjust="spacingAndGlyphs">Figure 11: Maximum Forward Biased Safe Operating Area</text>
<text x="479.00" y="1887.00" font-size="16" fill="#2a2a2a" font-family="'Liberation Sans', 'DejaVu Sans', sans-serif" textLength="124.5" lengthAdjust="spacingAndGlyphs">TO-220, Tc=25°C</text>
<text x="826.50" y="1867.50" font-size="16" fill="#2a2a2a" font-family="'Liberation Sans', 'DejaVu Sans', sans-serif" textLength="415.5" lengthAdjust="spacingAndGlyphs">Figure 12: Maximum Forward Biased Safe Operating Area</text>
<text x="942.00" y="1887.00" font-size="16" fill="#2a2a2a" font-family="'Liberation Sans', 'DejaVu Sans', sans-serif" textLength="184.5" lengthAdjust="spacingAndGlyphs">TO-220 FullPAK, Tc=25°C</text>
<text x="35.4" y="1918.8" font-size="16" fill="#222" font-family="'Liberation Serif', 'Noto Serif CJK SC', serif" textLength="276" lengthAdjust="spacingAndGlyphs">Rongtech Industry(Shanghai) Inc,.</text>
<text x="35.4" y="1938.6" font-size="16" fill="#222" font-family="'Liberation Serif', 'Noto Serif CJK SC', serif" textLength="88" lengthAdjust="spacingAndGlyphs">RT<tspan font-family="'Liberation Sans', Arial, sans-serif">X15N80E</tspan></text>
<text x="35.4" y="1958.7" font-size="16" fill="#222" font-family="'Liberation Serif', 'Noto Serif CJK SC', serif" textLength="203.3" lengthAdjust="spacingAndGlyphs">www.rongtechpower.com</text>
</svg>
</body></html>
